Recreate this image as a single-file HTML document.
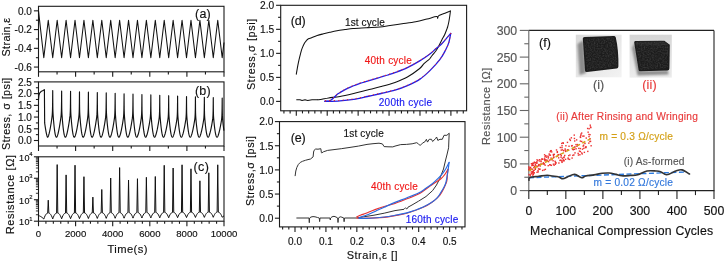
<!DOCTYPE html>
<html><head><meta charset="utf-8"><style>
html,body{margin:0;padding:0;background:#fff;}
svg{display:block;will-change:transform;}
text{font-family:"Liberation Sans", sans-serif;}
</style></head><body>
<svg width="725" height="263" viewBox="0 0 725 263">
<rect width="725" height="263" fill="#fff"/>
<rect x="38.5" y="6.3" width="185.5" height="65.5" fill="none" stroke="#1a1a1a" stroke-width="1.1"/>
<line x1="33.9" y1="10.84" x2="38.5" y2="10.84" stroke="#1a1a1a" stroke-width="1.1"/>
<text x="31.8" y="14.59" font-size="10.0" text-anchor="end" fill="#111" stroke="#111" stroke-width="0.15">0.0</text>
<line x1="33.9" y1="29.58" x2="38.5" y2="29.58" stroke="#1a1a1a" stroke-width="1.1"/>
<text x="31.8" y="33.33" font-size="10.0" text-anchor="end" fill="#111" stroke="#111" stroke-width="0.15">-0.2</text>
<line x1="33.9" y1="48.32" x2="38.5" y2="48.32" stroke="#1a1a1a" stroke-width="1.1"/>
<text x="31.8" y="52.07" font-size="10.0" text-anchor="end" fill="#111" stroke="#111" stroke-width="0.15">-0.4</text>
<line x1="33.9" y1="67.06" x2="38.5" y2="67.06" stroke="#1a1a1a" stroke-width="1.1"/>
<text x="31.8" y="70.81" font-size="10.0" text-anchor="end" fill="#111" stroke="#111" stroke-width="0.15">-0.6</text>
<line x1="35.9" y1="20.21" x2="38.5" y2="20.21" stroke="#1a1a1a" stroke-width="1.1"/>
<line x1="35.9" y1="38.95" x2="38.5" y2="38.95" stroke="#1a1a1a" stroke-width="1.1"/>
<line x1="35.9" y1="57.69" x2="38.5" y2="57.69" stroke="#1a1a1a" stroke-width="1.1"/>
<line x1="38.5" y1="71.8" x2="38.5" y2="76.8" stroke="#1a1a1a" stroke-width="1.1"/>
<line x1="75.6" y1="71.8" x2="75.6" y2="76.8" stroke="#1a1a1a" stroke-width="1.1"/>
<line x1="112.7" y1="71.8" x2="112.7" y2="76.8" stroke="#1a1a1a" stroke-width="1.1"/>
<line x1="149.8" y1="71.8" x2="149.8" y2="76.8" stroke="#1a1a1a" stroke-width="1.1"/>
<line x1="186.9" y1="71.8" x2="186.9" y2="76.8" stroke="#1a1a1a" stroke-width="1.1"/>
<line x1="224" y1="71.8" x2="224" y2="76.8" stroke="#1a1a1a" stroke-width="1.1"/>
<line x1="57.05" y1="71.8" x2="57.05" y2="74.4" stroke="#1a1a1a" stroke-width="1.1"/>
<line x1="94.15" y1="71.8" x2="94.15" y2="74.4" stroke="#1a1a1a" stroke-width="1.1"/>
<line x1="131.25" y1="71.8" x2="131.25" y2="74.4" stroke="#1a1a1a" stroke-width="1.1"/>
<line x1="168.35" y1="71.8" x2="168.35" y2="74.4" stroke="#1a1a1a" stroke-width="1.1"/>
<line x1="205.45" y1="71.8" x2="205.45" y2="74.4" stroke="#1a1a1a" stroke-width="1.1"/>
<polyline points="38.5,10.84 43.8,57.69 48.26,20.21 52.72,57.69 57.18,20.21 61.64,57.69 66.1,20.21 70.56,57.69 75.02,20.21 79.48,57.69 83.94,20.21 88.4,57.69 92.86,20.21 97.32,57.69 101.78,20.21 106.24,57.69 110.7,20.21 115.16,57.69 119.62,20.21 124.08,57.69 128.54,20.21 133,57.69 137.46,20.21 141.92,57.69 146.38,20.21 150.84,57.69 155.3,20.21 159.76,57.69 164.22,20.21 168.68,57.69 173.14,20.21 177.6,57.69 182.06,20.21 186.52,57.69 190.98,20.21 195.44,57.69 199.9,20.21 204.36,57.69 208.82,20.21 213.28,57.69 217.74,20.21 222.2,57.69 224,42.56" fill="none" stroke="#111" stroke-width="1.05" stroke-linejoin="round" />
<text x="195.05" y="17.6" font-size="12.5" fill="#111" stroke="#111" stroke-width="0.15" textLength="15.63" lengthAdjust="spacing">(a)</text>
<text x="9.9" y="56.54" font-size="10.8" fill="#111" stroke="#111" stroke-width="0.15" textLength="38.72" lengthAdjust="spacing" transform="rotate(-90 9.9 56.54)">Strain,ε</text>
<rect x="38.5" y="81.9" width="185.5" height="64.1" fill="none" stroke="#1a1a1a" stroke-width="1.1"/>
<line x1="33.9" y1="140.5" x2="38.5" y2="140.5" stroke="#1a1a1a" stroke-width="1.1"/>
<text x="31.8" y="144.25" font-size="10.0" text-anchor="end" fill="#111" stroke="#111" stroke-width="0.15">0.0</text>
<line x1="33.9" y1="128.78" x2="38.5" y2="128.78" stroke="#1a1a1a" stroke-width="1.1"/>
<text x="31.8" y="132.53" font-size="10.0" text-anchor="end" fill="#111" stroke="#111" stroke-width="0.15">0.5</text>
<line x1="33.9" y1="117.06" x2="38.5" y2="117.06" stroke="#1a1a1a" stroke-width="1.1"/>
<text x="31.8" y="120.81" font-size="10.0" text-anchor="end" fill="#111" stroke="#111" stroke-width="0.15">1.0</text>
<line x1="33.9" y1="105.34" x2="38.5" y2="105.34" stroke="#1a1a1a" stroke-width="1.1"/>
<text x="31.8" y="109.09" font-size="10.0" text-anchor="end" fill="#111" stroke="#111" stroke-width="0.15">1.5</text>
<line x1="33.9" y1="93.62" x2="38.5" y2="93.62" stroke="#1a1a1a" stroke-width="1.1"/>
<text x="31.8" y="97.37" font-size="10.0" text-anchor="end" fill="#111" stroke="#111" stroke-width="0.15">2.0</text>
<line x1="33.9" y1="81.9" x2="38.5" y2="81.9" stroke="#1a1a1a" stroke-width="1.1"/>
<text x="31.8" y="85.65" font-size="10.0" text-anchor="end" fill="#111" stroke="#111" stroke-width="0.15">2.5</text>
<line x1="35.9" y1="134.64" x2="38.5" y2="134.64" stroke="#1a1a1a" stroke-width="1.1"/>
<line x1="35.9" y1="122.92" x2="38.5" y2="122.92" stroke="#1a1a1a" stroke-width="1.1"/>
<line x1="35.9" y1="111.2" x2="38.5" y2="111.2" stroke="#1a1a1a" stroke-width="1.1"/>
<line x1="35.9" y1="99.48" x2="38.5" y2="99.48" stroke="#1a1a1a" stroke-width="1.1"/>
<line x1="35.9" y1="87.76" x2="38.5" y2="87.76" stroke="#1a1a1a" stroke-width="1.1"/>
<line x1="38.5" y1="146" x2="38.5" y2="151" stroke="#1a1a1a" stroke-width="1.1"/>
<line x1="75.6" y1="146" x2="75.6" y2="151" stroke="#1a1a1a" stroke-width="1.1"/>
<line x1="112.7" y1="146" x2="112.7" y2="151" stroke="#1a1a1a" stroke-width="1.1"/>
<line x1="149.8" y1="146" x2="149.8" y2="151" stroke="#1a1a1a" stroke-width="1.1"/>
<line x1="186.9" y1="146" x2="186.9" y2="151" stroke="#1a1a1a" stroke-width="1.1"/>
<line x1="224" y1="146" x2="224" y2="151" stroke="#1a1a1a" stroke-width="1.1"/>
<line x1="57.05" y1="146" x2="57.05" y2="148.6" stroke="#1a1a1a" stroke-width="1.1"/>
<line x1="94.15" y1="146" x2="94.15" y2="148.6" stroke="#1a1a1a" stroke-width="1.1"/>
<line x1="131.25" y1="146" x2="131.25" y2="148.6" stroke="#1a1a1a" stroke-width="1.1"/>
<line x1="168.35" y1="146" x2="168.35" y2="148.6" stroke="#1a1a1a" stroke-width="1.1"/>
<line x1="205.45" y1="146" x2="205.45" y2="148.6" stroke="#1a1a1a" stroke-width="1.1"/>
<polyline points="38.5,100.18 38.9,95.5 39.6,93.15 41,91.51 43,90.57 44.4,89.64 44.53,106.29 44.66,122.94 44.78,123.83 44.9,124.69 45.02,125.53 45.15,126.36 45.27,127.16 45.39,127.95 45.51,128.71 45.64,129.45 45.76,130.17 45.88,130.86 46.01,131.53 46.13,132.17 46.25,132.79 46.37,133.38 46.5,133.94 46.62,134.47 46.74,134.97 46.86,135.43 46.99,135.86 47.11,136.25 47.23,136.59 47.35,136.87 47.48,137.1 47.6,137.22 47.79,137.08 47.98,136.81 48.18,136.44 48.37,135.99 48.56,135.46 48.75,134.86 48.94,134.2 49.14,133.48 49.33,132.71 49.52,131.88 49.71,131 49.9,130.07 50.1,129.09 50.29,128.07 50.48,127 50.67,125.89 50.86,124.73 51.06,123.54 51.25,122.3 51.44,121.03 51.63,119.71 51.82,118.34 52.02,116.85 52.21,115.02 52.31,113.63 52.41,111.57 52.52,108.16 52.57,105.56 52.62,102.03 52.67,97.21 52.72,90.57 52.74,95 52.76,98.53 52.8,103.6 52.83,106.9 52.87,109.11 52.95,111.8 53.1,114.64 53.25,116.73 53.39,118.65 53.54,120.46 53.69,122.17 53.84,123.79 53.99,125.31 54.14,126.73 54.29,128.06 54.44,129.29 54.59,130.44 54.73,131.49 54.88,132.44 55.03,133.31 55.18,134.09 55.33,134.77 55.48,135.37 55.63,135.88 55.78,136.31 55.92,136.65 56.07,136.91 56.22,137.09 56.37,137.19 56.52,137.22 56.71,137.09 56.9,136.82 57.1,136.45 57.29,136 57.48,135.47 57.67,134.88 57.86,134.23 58.06,133.51 58.25,132.74 58.44,131.92 58.63,131.05 58.82,130.13 59.02,129.16 59.21,128.15 59.4,127.09 59.59,125.98 59.78,124.84 59.98,123.65 60.17,122.43 60.36,121.16 60.55,119.86 60.74,118.5 60.94,117.02 61.13,115.21 61.23,113.83 61.33,111.79 61.44,108.4 61.49,105.82 61.54,102.33 61.59,97.55 61.64,90.97 61.66,95.36 61.68,98.85 61.72,103.88 61.75,107.15 61.79,109.34 61.87,112.01 62.02,114.83 62.17,116.91 62.31,118.81 62.46,120.6 62.61,122.3 62.76,123.9 62.91,125.41 63.06,126.82 63.21,128.14 63.36,129.36 63.51,130.49 63.65,131.53 63.8,132.48 63.95,133.34 64.1,134.11 64.25,134.79 64.4,135.39 64.55,135.89 64.7,136.31 64.84,136.65 64.99,136.91 65.14,137.09 65.29,137.19 65.44,137.22 65.63,137.09 65.82,136.82 66.02,136.45 66.21,136.01 66.4,135.49 66.59,134.9 66.78,134.25 66.98,133.54 67.17,132.78 67.36,131.97 67.55,131.1 67.74,130.19 67.94,129.23 68.13,128.22 68.32,127.17 68.51,126.08 68.7,124.95 68.9,123.77 69.09,122.56 69.28,121.3 69.47,120 69.66,118.65 69.86,117.2 70.05,115.39 70.15,114.03 70.25,112.01 70.36,108.65 70.41,106.09 70.46,102.63 70.51,97.88 70.56,91.36 70.58,95.72 70.6,99.18 70.64,104.17 70.67,107.41 70.71,109.58 70.79,112.23 70.94,115.02 71.09,117.08 71.23,118.96 71.38,120.74 71.53,122.43 71.68,124.01 71.83,125.51 71.98,126.91 72.13,128.21 72.28,129.43 72.43,130.55 72.57,131.58 72.72,132.52 72.87,133.38 73.02,134.14 73.17,134.81 73.32,135.4 73.47,135.9 73.62,136.32 73.76,136.66 73.91,136.91 74.06,137.09 74.21,137.19 74.36,137.22 74.55,137.09 74.74,136.82 74.94,136.46 75.13,136.02 75.32,135.5 75.51,134.92 75.7,134.28 75.9,133.58 76.09,132.82 76.28,132.01 76.47,131.16 76.66,130.25 76.86,129.3 77.05,128.3 77.24,127.26 77.43,126.18 77.62,125.05 77.82,123.89 78.01,122.68 78.2,121.44 78.39,120.15 78.58,118.81 78.78,117.37 78.97,115.58 79.07,114.23 79.17,112.23 79.28,108.89 79.33,106.36 79.38,102.92 79.43,98.22 79.48,91.76 79.5,96.07 79.52,99.51 79.56,104.45 79.59,107.67 79.63,109.82 79.71,112.44 79.86,115.22 80.01,117.25 80.15,119.12 80.3,120.88 80.45,122.55 80.6,124.13 80.75,125.61 80.9,127 81.05,128.29 81.2,129.5 81.35,130.61 81.49,131.63 81.64,132.56 81.79,133.41 81.94,134.16 82.09,134.83 82.24,135.42 82.39,135.92 82.54,136.33 82.68,136.66 82.83,136.91 82.98,137.09 83.13,137.19 83.28,137.22 83.47,137.09 83.66,136.83 83.86,136.47 84.05,136.03 84.24,135.52 84.43,134.94 84.62,134.3 84.82,133.61 85.01,132.86 85.2,132.06 85.39,131.21 85.58,130.31 85.78,129.37 85.97,128.38 86.16,127.35 86.35,126.27 86.54,125.16 86.74,124 86.93,122.81 87.12,121.57 87.31,120.3 87.5,118.97 87.7,117.54 87.89,115.77 87.99,114.43 88.09,112.44 88.2,109.14 88.25,106.63 88.3,103.22 88.35,98.56 88.4,92.15 88.42,96.43 88.44,99.84 88.48,104.74 88.51,107.92 88.55,110.06 88.63,112.66 88.78,115.41 88.93,117.43 89.07,119.28 89.22,121.03 89.37,122.68 89.52,124.24 89.67,125.71 89.82,127.08 89.97,128.37 90.12,129.56 90.27,130.67 90.41,131.68 90.56,132.6 90.71,133.44 90.86,134.19 91.01,134.85 91.16,135.43 91.31,135.93 91.46,136.34 91.6,136.67 91.75,136.92 91.9,137.09 92.05,137.19 92.2,137.22 92.39,137.09 92.58,136.83 92.78,136.47 92.97,136.04 93.16,135.53 93.35,134.96 93.54,134.33 93.74,133.64 93.93,132.9 94.12,132.1 94.31,131.26 94.5,130.37 94.7,129.44 94.89,128.46 95.08,127.43 95.27,126.37 95.46,125.26 95.66,124.12 95.85,122.93 96.04,121.71 96.23,120.45 96.42,119.13 96.62,117.71 96.81,115.96 96.91,114.63 97.01,112.66 97.12,109.39 97.17,106.9 97.22,103.52 97.27,98.9 97.32,92.55 97.34,96.79 97.36,100.16 97.4,105.02 97.43,108.18 97.47,110.3 97.55,112.87 97.7,115.6 97.85,117.6 97.99,119.44 98.14,121.17 98.29,122.81 98.44,124.35 98.59,125.81 98.74,127.17 98.89,128.45 99.04,129.63 99.19,130.72 99.33,131.73 99.48,132.65 99.63,133.47 99.78,134.22 99.93,134.88 100.08,135.45 100.23,135.94 100.38,136.35 100.52,136.67 100.67,136.92 100.82,137.09 100.97,137.19 101.12,137.22 101.31,137.09 101.5,136.83 101.7,136.48 101.89,136.05 102.08,135.55 102.27,134.98 102.46,134.35 102.66,133.67 102.85,132.94 103.04,132.15 103.23,131.31 103.42,130.43 103.62,129.5 103.81,128.53 104,127.52 104.19,126.46 104.38,125.37 104.58,124.23 104.77,123.06 104.96,121.85 105.15,120.6 105.34,119.29 105.54,117.89 105.73,116.15 105.83,114.83 105.93,112.88 106.04,109.63 106.09,107.16 106.14,103.82 106.19,99.24 106.24,92.94 106.26,97.15 106.28,100.49 106.32,105.31 106.35,108.44 106.39,110.53 106.47,113.09 106.62,115.79 106.77,117.77 106.91,119.59 107.06,121.31 107.21,122.93 107.36,124.47 107.51,125.91 107.66,127.26 107.81,128.52 107.96,129.7 108.11,130.78 108.25,131.78 108.4,132.69 108.55,133.51 108.7,134.24 108.85,134.9 109,135.46 109.15,135.95 109.3,136.35 109.44,136.68 109.59,136.92 109.74,137.09 109.89,137.19 110.04,137.22 110.23,137.09 110.42,136.84 110.62,136.49 110.81,136.06 111,135.56 111.19,135 111.38,134.38 111.58,133.7 111.77,132.97 111.96,132.19 112.15,131.37 112.34,130.49 112.54,129.57 112.73,128.61 112.92,127.61 113.11,126.56 113.3,125.47 113.5,124.35 113.69,123.19 113.88,121.99 114.07,120.75 114.26,119.45 114.46,118.06 114.65,116.33 114.75,115.03 114.85,113.09 114.96,109.88 115.01,107.43 115.06,104.11 115.11,99.58 115.16,93.34 115.18,97.5 115.2,100.82 115.24,105.59 115.27,108.69 115.31,110.77 115.39,113.3 115.54,115.98 115.69,117.95 115.83,119.75 115.98,121.45 116.13,123.06 116.28,124.58 116.43,126.01 116.58,127.35 116.73,128.6 116.88,129.76 117.03,130.84 117.17,131.83 117.32,132.73 117.47,133.54 117.62,134.27 117.77,134.92 117.92,135.48 118.07,135.96 118.22,136.36 118.36,136.68 118.51,136.92 118.66,137.09 118.81,137.19 118.96,137.22 119.15,137.09 119.34,136.84 119.54,136.49 119.73,136.07 119.92,135.58 120.11,135.02 120.3,134.4 120.5,133.73 120.69,133.01 120.88,132.24 121.07,131.42 121.26,130.55 121.46,129.64 121.65,128.69 121.84,127.69 122.03,126.66 122.22,125.58 122.42,124.47 122.61,123.31 122.8,122.12 122.99,120.89 123.18,119.61 123.38,118.23 123.57,116.52 123.67,115.23 123.77,113.31 123.88,110.12 123.93,107.7 123.98,104.41 124.03,99.92 124.08,93.73 124.1,97.86 124.12,101.15 124.16,105.88 124.19,108.95 124.23,111.01 124.31,113.52 124.46,116.17 124.61,118.12 124.75,119.91 124.9,121.59 125.05,123.19 125.2,124.7 125.35,126.11 125.5,127.44 125.65,128.68 125.8,129.83 125.95,130.9 126.09,131.87 126.24,132.77 126.39,133.57 126.54,134.3 126.69,134.94 126.84,135.5 126.99,135.97 127.14,136.37 127.28,136.69 127.43,136.93 127.58,137.09 127.73,137.19 127.88,137.22 128.07,137.09 128.26,136.84 128.46,136.5 128.65,136.08 128.84,135.59 129.03,135.04 129.22,134.43 129.42,133.77 129.61,133.05 129.8,132.28 129.99,131.47 130.18,130.61 130.38,129.71 130.57,128.77 130.76,127.78 130.95,126.75 131.14,125.69 131.34,124.58 131.53,123.44 131.72,122.26 131.91,121.04 132.1,119.77 132.3,118.4 132.49,116.71 132.59,115.43 132.69,113.53 132.8,110.37 132.85,107.97 132.9,104.71 132.95,100.25 133,94.13 133.02,98.22 133.04,101.47 133.08,106.16 133.11,109.21 133.15,111.25 133.23,113.73 133.38,116.36 133.53,118.3 133.67,120.06 133.82,121.74 133.97,123.32 134.12,124.81 134.27,126.21 134.42,127.53 134.57,128.76 134.72,129.9 134.87,130.95 135.01,131.92 135.16,132.81 135.31,133.61 135.46,134.32 135.61,134.96 135.76,135.51 135.91,135.98 136.06,136.38 136.2,136.69 136.35,136.93 136.5,137.1 136.65,137.19 136.8,137.22 136.99,137.1 137.18,136.85 137.38,136.51 137.57,136.09 137.76,135.61 137.95,135.06 138.14,134.46 138.34,133.8 138.53,133.09 138.72,132.33 138.91,131.52 139.1,130.67 139.3,129.78 139.49,128.84 139.68,127.87 139.87,126.85 140.06,125.79 140.26,124.7 140.45,123.57 140.64,122.4 140.83,121.19 141.02,119.93 141.22,118.58 141.41,116.9 141.51,115.63 141.61,113.74 141.72,110.62 141.77,108.24 141.82,105.01 141.87,100.59 141.92,94.52 141.94,98.58 141.96,101.8 142,106.44 142.03,109.46 142.07,111.49 142.15,113.95 142.3,116.55 142.45,118.47 142.59,120.22 142.74,121.88 142.89,123.44 143.04,124.92 143.19,126.31 143.34,127.62 143.49,128.83 143.64,129.96 143.79,131.01 143.93,131.97 144.08,132.85 144.23,133.64 144.38,134.35 144.53,134.98 144.68,135.53 144.83,135.99 144.98,136.38 145.12,136.7 145.27,136.93 145.42,137.1 145.57,137.19 145.72,137.22 145.91,137.1 146.1,136.85 146.3,136.51 146.49,136.1 146.68,135.62 146.87,135.08 147.06,134.48 147.26,133.83 147.45,133.13 147.64,132.37 147.83,131.58 148.02,130.73 148.22,129.85 148.41,128.92 148.6,127.95 148.79,126.94 148.98,125.9 149.18,124.81 149.37,123.69 149.56,122.53 149.75,121.34 149.94,120.09 150.14,118.75 150.33,117.08 150.43,115.83 150.53,113.96 150.64,110.86 150.69,108.5 150.74,105.31 150.79,100.93 150.84,94.92 150.86,98.93 150.88,102.13 150.92,106.73 150.95,109.72 150.99,111.72 151.07,114.16 151.22,116.74 151.37,118.64 151.51,120.38 151.66,122.02 151.81,123.57 151.96,125.04 152.11,126.41 152.26,127.71 152.41,128.91 152.56,130.03 152.71,131.07 152.85,132.02 153,132.89 153.15,133.67 153.3,134.38 153.45,135 153.6,135.54 153.75,136.01 153.9,136.39 154.04,136.7 154.19,136.94 154.34,137.1 154.49,137.19 154.64,137.22 154.83,137.1 155.02,136.85 155.22,136.52 155.41,136.11 155.6,135.64 155.79,135.1 155.98,134.51 156.18,133.86 156.37,133.16 156.56,132.42 156.75,131.63 156.94,130.79 157.14,129.92 157.33,129 157.52,128.04 157.71,127.04 157.9,126 158.1,124.93 158.29,123.82 158.48,122.67 158.67,121.49 158.86,120.25 159.06,118.92 159.25,117.27 159.35,116.03 159.45,114.18 159.56,111.11 159.61,108.77 159.66,105.6 159.71,101.27 159.76,95.31 159.78,99.29 159.8,102.46 159.84,107.01 159.87,109.98 159.91,111.96 159.99,114.38 160.14,116.93 160.29,118.82 160.43,120.54 160.58,122.16 160.73,123.7 160.88,125.15 161.03,126.52 161.18,127.79 161.33,128.99 161.48,130.1 161.63,131.13 161.77,132.07 161.92,132.93 162.07,133.71 162.22,134.4 162.37,135.02 162.52,135.56 162.67,136.02 162.82,136.4 162.96,136.71 163.11,136.94 163.26,137.1 163.41,137.19 163.56,137.22 163.75,137.1 163.94,136.86 164.14,136.53 164.33,136.12 164.52,135.65 164.71,135.12 164.9,134.53 165.1,133.89 165.29,133.2 165.48,132.47 165.67,131.68 165.86,130.85 166.06,129.99 166.25,129.07 166.44,128.12 166.63,127.14 166.82,126.11 167.02,125.04 167.21,123.94 167.4,122.81 167.59,121.63 167.78,120.41 167.98,119.09 168.17,117.46 168.27,116.23 168.37,114.4 168.48,111.35 168.53,109.04 168.58,105.9 168.63,101.61 168.68,95.7 168.7,99.65 168.72,102.78 168.76,107.3 168.79,110.23 168.83,112.2 168.91,114.59 169.06,117.13 169.21,118.99 169.35,120.69 169.5,122.3 169.65,123.83 169.8,125.26 169.95,126.62 170.1,127.88 170.25,129.07 170.4,130.17 170.55,131.18 170.69,132.12 170.84,132.97 170.99,133.74 171.14,134.43 171.29,135.04 171.44,135.57 171.59,136.03 171.74,136.41 171.88,136.71 172.03,136.94 172.18,137.1 172.33,137.19 172.48,137.22 172.67,137.1 172.86,136.86 173.06,136.53 173.25,136.13 173.44,135.67 173.63,135.14 173.82,134.56 174.02,133.92 174.21,133.24 174.4,132.51 174.59,131.73 174.78,130.92 174.98,130.05 175.17,129.15 175.36,128.21 175.55,127.23 175.74,126.21 175.94,125.16 176.13,124.07 176.32,122.95 176.51,121.78 176.7,120.57 176.9,119.26 177.09,117.65 177.19,116.43 177.29,114.61 177.4,111.6 177.45,109.31 177.5,106.2 177.55,101.95 177.6,96.1 177.62,100 177.64,103.11 177.68,107.58 177.71,110.49 177.75,112.44 177.83,114.81 177.98,117.32 178.13,119.16 178.27,120.85 178.42,122.44 178.57,123.95 178.72,125.38 178.87,126.72 179.02,127.97 179.17,129.14 179.32,130.23 179.47,131.24 179.61,132.16 179.76,133.01 179.91,133.77 180.06,134.46 180.21,135.06 180.36,135.59 180.51,136.04 180.66,136.41 180.8,136.72 180.95,136.94 181.1,137.1 181.25,137.19 181.4,137.22 181.59,137.1 181.78,136.86 181.98,136.54 182.17,136.14 182.36,135.68 182.55,135.16 182.74,134.58 182.94,133.96 183.13,133.28 183.32,132.56 183.51,131.79 183.7,130.98 183.9,130.12 184.09,129.23 184.28,128.3 184.47,127.33 184.66,126.32 184.86,125.28 185.05,124.2 185.24,123.08 185.43,121.93 185.62,120.73 185.82,119.44 186.01,117.84 186.11,116.63 186.21,114.83 186.32,111.85 186.37,109.58 186.42,106.5 186.47,102.29 186.52,96.49 186.54,100.36 186.56,103.44 186.6,107.87 186.63,110.75 186.67,112.68 186.75,115.02 186.9,117.51 187.05,119.34 187.19,121.01 187.34,122.59 187.49,124.08 187.64,125.49 187.79,126.82 187.94,128.06 188.09,129.22 188.24,130.3 188.39,131.3 188.53,132.21 188.68,133.05 188.83,133.81 188.98,134.48 189.13,135.08 189.28,135.6 189.43,136.05 189.58,136.42 189.72,136.72 189.87,136.95 190.02,137.1 190.17,137.19 190.32,137.22 190.51,137.1 190.7,136.87 190.9,136.55 191.09,136.15 191.28,135.7 191.47,135.18 191.66,134.61 191.86,133.99 192.05,133.32 192.24,132.6 192.43,131.84 192.62,131.04 192.82,130.19 193.01,129.31 193.2,128.38 193.39,127.42 193.58,126.43 193.78,125.39 193.97,124.32 194.16,123.22 194.35,122.08 194.54,120.89 194.74,119.61 194.93,118.02 195.03,116.83 195.13,115.05 195.24,112.09 195.29,109.84 195.34,106.79 195.39,102.62 195.44,96.89 195.46,100.72 195.48,103.77 195.52,108.15 195.55,111 195.59,112.91 195.67,115.24 195.82,117.7 195.97,119.51 196.11,121.16 196.26,122.73 196.41,124.21 196.56,125.6 196.71,126.92 196.86,128.15 197.01,129.3 197.16,130.37 197.31,131.35 197.45,132.26 197.6,133.09 197.75,133.84 197.9,134.51 198.05,135.1 198.2,135.62 198.35,136.06 198.5,136.43 198.64,136.72 198.79,136.95 198.94,137.1 199.09,137.19 199.24,137.22 199.43,137.1 199.62,136.87 199.82,136.55 200.01,136.16 200.2,135.71 200.39,135.2 200.58,134.63 200.78,134.02 200.97,133.36 201.16,132.65 201.35,131.89 201.54,131.1 201.74,130.26 201.93,129.38 202.12,128.47 202.31,127.52 202.5,126.53 202.7,125.51 202.89,124.45 203.08,123.36 203.27,122.23 203.46,121.05 203.66,119.78 203.85,118.21 203.95,117.03 204.05,115.26 204.16,112.34 204.21,110.11 204.26,107.09 204.31,102.96 204.36,97.28 204.38,101.08 204.4,104.09 204.44,108.44 204.47,111.26 204.51,113.15 204.59,115.45 204.74,117.89 204.89,119.68 205.03,121.32 205.18,122.87 205.33,124.34 205.48,125.72 205.63,127.02 205.78,128.24 205.93,129.38 206.08,130.43 206.23,131.41 206.37,132.31 206.52,133.13 206.67,133.87 206.82,134.54 206.97,135.12 207.12,135.64 207.27,136.07 207.42,136.44 207.56,136.73 207.71,136.95 207.86,137.1 208.01,137.19 208.16,137.22 208.35,137.1 208.54,136.87 208.74,136.56 208.93,136.17 209.12,135.72 209.31,135.22 209.5,134.66 209.7,134.05 209.89,133.39 210.08,132.69 210.27,131.95 210.46,131.16 210.66,130.33 210.85,129.46 211.04,128.56 211.23,127.61 211.42,126.64 211.62,125.62 211.81,124.58 212,123.49 212.19,122.38 212.38,121.21 212.58,119.95 212.77,118.4 212.87,117.23 212.97,115.48 213.08,112.58 213.13,110.38 213.18,107.39 213.23,103.3 213.28,97.68 213.3,101.43 213.32,104.42 213.36,108.72 213.39,111.52 213.43,113.39 213.51,115.67 213.66,118.08 213.81,119.86 213.95,121.48 214.1,123.01 214.25,124.46 214.4,125.83 214.55,127.12 214.7,128.33 214.85,129.45 215,130.5 215.15,131.47 215.29,132.36 215.44,133.17 215.59,133.9 215.74,134.56 215.89,135.14 216.04,135.65 216.19,136.08 216.34,136.45 216.48,136.73 216.63,136.95 216.78,137.11 216.93,137.19 217.08,137.22 217.27,137.11 217.46,136.88 217.66,136.57 217.85,136.18 218.04,135.74 218.23,135.24 218.42,134.69 218.62,134.08 218.81,133.43 219,132.74 219.19,132 219.38,131.22 219.58,130.4 219.77,129.54 219.96,128.64 220.15,127.71 220.34,126.74 220.54,125.74 220.73,124.7 220.92,123.63 221.11,122.52 221.3,121.37 221.5,120.13 221.69,118.59 221.79,117.43 221.89,115.7 222,112.83 222.05,110.65 222.1,107.69 222.15,103.64 222.2,98.07 222.22,101.79 222.24,104.75 222.28,109 222.31,111.77 222.35,113.63 222.43,115.88 222.58,118.27 222.73,120.03 222.87,121.64 223.02,123.15 223.17,124.59 223.32,125.95 223.47,127.22 223.62,128.42 223.77,129.53 223.92,130.57" fill="none" stroke="#111" stroke-width="1.15" stroke-linejoin="round" />
<text x="194.95" y="94.8" font-size="12.5" fill="#111" stroke="#111" stroke-width="0.15" textLength="15.73" lengthAdjust="spacing">(b)</text>
<text x="9.6" y="149.94" font-size="10.8" fill="#111" stroke="#111" stroke-width="0.15" textLength="72.18" lengthAdjust="spacing" transform="rotate(-90 9.6 149.94)">Stress, σ [psi]</text>
<rect x="38.5" y="156.8" width="185.5" height="64.4" fill="none" stroke="#1a1a1a" stroke-width="1.1"/>
<line x1="33.9" y1="221.2" x2="38.5" y2="221.2" stroke="#1a1a1a" stroke-width="1.1"/>
<text x="19.08" y="225.2" font-size="9.0" fill="#111" stroke="#111" stroke-width="0.15" textLength="10.41" lengthAdjust="spacing">10</text>
<text x="29.2" y="220.8" font-size="5.8" text-anchor="start" fill="#111" stroke="#111" stroke-width="0.15">1</text>
<line x1="33.9" y1="199.73" x2="38.5" y2="199.73" stroke="#1a1a1a" stroke-width="1.1"/>
<text x="19.08" y="203.73" font-size="9.0" fill="#111" stroke="#111" stroke-width="0.15" textLength="10.41" lengthAdjust="spacing">10</text>
<text x="29.2" y="199.33" font-size="5.8" text-anchor="start" fill="#111" stroke="#111" stroke-width="0.15">2</text>
<line x1="33.9" y1="178.26" x2="38.5" y2="178.26" stroke="#1a1a1a" stroke-width="1.1"/>
<text x="19.08" y="182.26" font-size="9.0" fill="#111" stroke="#111" stroke-width="0.15" textLength="10.41" lengthAdjust="spacing">10</text>
<text x="29.2" y="177.86" font-size="5.8" text-anchor="start" fill="#111" stroke="#111" stroke-width="0.15">3</text>
<line x1="33.9" y1="156.79" x2="38.5" y2="156.79" stroke="#1a1a1a" stroke-width="1.1"/>
<text x="19.08" y="160.79" font-size="9.0" fill="#111" stroke="#111" stroke-width="0.15" textLength="10.41" lengthAdjust="spacing">10</text>
<text x="29.2" y="156.39" font-size="5.8" text-anchor="start" fill="#111" stroke="#111" stroke-width="0.15">4</text>
<line x1="35.9" y1="214.74" x2="38.5" y2="214.74" stroke="#1a1a1a" stroke-width="0.9"/>
<line x1="35.9" y1="210.96" x2="38.5" y2="210.96" stroke="#1a1a1a" stroke-width="0.9"/>
<line x1="35.9" y1="208.27" x2="38.5" y2="208.27" stroke="#1a1a1a" stroke-width="0.9"/>
<line x1="35.9" y1="206.19" x2="38.5" y2="206.19" stroke="#1a1a1a" stroke-width="0.9"/>
<line x1="35.9" y1="204.49" x2="38.5" y2="204.49" stroke="#1a1a1a" stroke-width="0.9"/>
<line x1="35.9" y1="203.06" x2="38.5" y2="203.06" stroke="#1a1a1a" stroke-width="0.9"/>
<line x1="35.9" y1="201.81" x2="38.5" y2="201.81" stroke="#1a1a1a" stroke-width="0.9"/>
<line x1="35.9" y1="200.71" x2="38.5" y2="200.71" stroke="#1a1a1a" stroke-width="0.9"/>
<line x1="35.9" y1="193.27" x2="38.5" y2="193.27" stroke="#1a1a1a" stroke-width="0.9"/>
<line x1="35.9" y1="189.49" x2="38.5" y2="189.49" stroke="#1a1a1a" stroke-width="0.9"/>
<line x1="35.9" y1="186.8" x2="38.5" y2="186.8" stroke="#1a1a1a" stroke-width="0.9"/>
<line x1="35.9" y1="184.72" x2="38.5" y2="184.72" stroke="#1a1a1a" stroke-width="0.9"/>
<line x1="35.9" y1="183.02" x2="38.5" y2="183.02" stroke="#1a1a1a" stroke-width="0.9"/>
<line x1="35.9" y1="181.59" x2="38.5" y2="181.59" stroke="#1a1a1a" stroke-width="0.9"/>
<line x1="35.9" y1="180.34" x2="38.5" y2="180.34" stroke="#1a1a1a" stroke-width="0.9"/>
<line x1="35.9" y1="179.24" x2="38.5" y2="179.24" stroke="#1a1a1a" stroke-width="0.9"/>
<line x1="35.9" y1="171.8" x2="38.5" y2="171.8" stroke="#1a1a1a" stroke-width="0.9"/>
<line x1="35.9" y1="168.02" x2="38.5" y2="168.02" stroke="#1a1a1a" stroke-width="0.9"/>
<line x1="35.9" y1="165.33" x2="38.5" y2="165.33" stroke="#1a1a1a" stroke-width="0.9"/>
<line x1="35.9" y1="163.25" x2="38.5" y2="163.25" stroke="#1a1a1a" stroke-width="0.9"/>
<line x1="35.9" y1="161.55" x2="38.5" y2="161.55" stroke="#1a1a1a" stroke-width="0.9"/>
<line x1="35.9" y1="160.12" x2="38.5" y2="160.12" stroke="#1a1a1a" stroke-width="0.9"/>
<line x1="35.9" y1="158.87" x2="38.5" y2="158.87" stroke="#1a1a1a" stroke-width="0.9"/>
<line x1="35.9" y1="157.77" x2="38.5" y2="157.77" stroke="#1a1a1a" stroke-width="0.9"/>
<line x1="38.5" y1="221.2" x2="38.5" y2="226.2" stroke="#1a1a1a" stroke-width="1.1"/>
<line x1="75.6" y1="221.2" x2="75.6" y2="226.2" stroke="#1a1a1a" stroke-width="1.1"/>
<line x1="112.7" y1="221.2" x2="112.7" y2="226.2" stroke="#1a1a1a" stroke-width="1.1"/>
<line x1="149.8" y1="221.2" x2="149.8" y2="226.2" stroke="#1a1a1a" stroke-width="1.1"/>
<line x1="186.9" y1="221.2" x2="186.9" y2="226.2" stroke="#1a1a1a" stroke-width="1.1"/>
<line x1="224" y1="221.2" x2="224" y2="226.2" stroke="#1a1a1a" stroke-width="1.1"/>
<line x1="45.92" y1="221.2" x2="45.92" y2="223.8" stroke="#1a1a1a" stroke-width="1.1"/>
<line x1="53.34" y1="221.2" x2="53.34" y2="223.8" stroke="#1a1a1a" stroke-width="1.1"/>
<line x1="60.76" y1="221.2" x2="60.76" y2="223.8" stroke="#1a1a1a" stroke-width="1.1"/>
<line x1="68.18" y1="221.2" x2="68.18" y2="223.8" stroke="#1a1a1a" stroke-width="1.1"/>
<line x1="83.02" y1="221.2" x2="83.02" y2="223.8" stroke="#1a1a1a" stroke-width="1.1"/>
<line x1="90.44" y1="221.2" x2="90.44" y2="223.8" stroke="#1a1a1a" stroke-width="1.1"/>
<line x1="97.86" y1="221.2" x2="97.86" y2="223.8" stroke="#1a1a1a" stroke-width="1.1"/>
<line x1="105.28" y1="221.2" x2="105.28" y2="223.8" stroke="#1a1a1a" stroke-width="1.1"/>
<line x1="120.12" y1="221.2" x2="120.12" y2="223.8" stroke="#1a1a1a" stroke-width="1.1"/>
<line x1="127.54" y1="221.2" x2="127.54" y2="223.8" stroke="#1a1a1a" stroke-width="1.1"/>
<line x1="134.96" y1="221.2" x2="134.96" y2="223.8" stroke="#1a1a1a" stroke-width="1.1"/>
<line x1="142.38" y1="221.2" x2="142.38" y2="223.8" stroke="#1a1a1a" stroke-width="1.1"/>
<line x1="157.22" y1="221.2" x2="157.22" y2="223.8" stroke="#1a1a1a" stroke-width="1.1"/>
<line x1="164.64" y1="221.2" x2="164.64" y2="223.8" stroke="#1a1a1a" stroke-width="1.1"/>
<line x1="172.06" y1="221.2" x2="172.06" y2="223.8" stroke="#1a1a1a" stroke-width="1.1"/>
<line x1="179.48" y1="221.2" x2="179.48" y2="223.8" stroke="#1a1a1a" stroke-width="1.1"/>
<line x1="194.32" y1="221.2" x2="194.32" y2="223.8" stroke="#1a1a1a" stroke-width="1.1"/>
<line x1="201.74" y1="221.2" x2="201.74" y2="223.8" stroke="#1a1a1a" stroke-width="1.1"/>
<line x1="209.16" y1="221.2" x2="209.16" y2="223.8" stroke="#1a1a1a" stroke-width="1.1"/>
<line x1="216.58" y1="221.2" x2="216.58" y2="223.8" stroke="#1a1a1a" stroke-width="1.1"/>
<polyline points="38.5,215.7 39.38,215.89 40.27,216.27 41.15,216.79 42.03,217.42 42.92,218.17 43.8,219 44.44,217.23 45.09,215.78 45.73,214.65 46.37,213.84 47.02,213.36 47.66,213.2 48.26,200.2 48.86,213.2 49.5,213.36 50.15,213.83 50.79,214.63 51.43,215.74 52.08,217.17 52.72,218.91 53.36,217.15 54.01,215.71 54.65,214.59 55.29,213.79 55.94,213.31 56.58,213.15 57.18,164.6 57.78,213.15 58.42,213.3 59.07,213.78 59.71,214.57 60.35,215.67 61,217.09 61.64,218.82 62.28,217.07 62.93,215.64 63.57,214.53 64.21,213.73 64.86,213.25 65.5,213.09 66.1,174.9 66.7,213.09 67.34,213.25 67.99,213.72 68.63,214.5 69.27,215.6 69.92,217.01 70.56,218.73 71.2,216.99 71.85,215.57 72.49,214.46 73.13,213.67 73.78,213.2 74.42,213.04 75.02,165.2 75.62,213.04 76.26,213.2 76.91,213.66 77.55,214.44 78.19,215.53 78.84,216.93 79.48,218.64 80.12,216.91 80.77,215.5 81.41,214.4 82.05,213.62 82.7,213.15 83.34,212.99 83.94,176.7 84.54,212.99 85.18,213.14 85.83,213.61 86.47,214.38 87.11,215.46 87.76,216.85 88.4,218.55 89.04,216.84 89.69,215.43 90.33,214.34 90.97,213.56 91.62,213.09 92.26,212.94 92.86,197.1 93.46,212.94 94.1,213.09 94.75,213.55 95.39,214.32 96.03,215.39 96.68,216.77 97.32,218.46 97.96,216.76 98.61,215.36 99.25,214.28 99.89,213.5 100.54,213.04 101.18,212.88 101.78,189.5 102.38,212.88 103.02,213.04 103.67,213.49 104.31,214.26 104.95,215.32 105.6,216.7 106.24,218.37 106.88,216.68 107.53,215.29 108.17,214.22 108.81,213.45 109.46,212.99 110.1,212.83 110.7,178 111.3,212.83 111.94,212.98 112.59,213.44 113.23,214.19 113.87,215.25 114.52,216.62 115.16,218.28 115.8,216.6 116.45,215.23 117.09,214.16 117.73,213.39 118.38,212.93 119.02,212.78 119.62,167.6 120.22,212.78 120.86,212.93 121.51,213.38 122.15,214.13 122.79,215.19 123.44,216.54 124.08,218.19 124.72,216.52 125.37,215.16 126.01,214.09 126.65,213.33 127.3,212.88 127.94,212.73 128.54,180 129.14,212.73 129.78,212.88 130.43,213.32 131.07,214.07 131.71,215.12 132.36,216.46 133,218.11 133.64,216.45 134.29,215.09 134.93,214.03 135.57,213.28 136.22,212.82 136.86,212.67 137.46,178.7 138.06,212.67 138.7,212.82 139.35,213.27 139.99,214.01 140.63,215.05 141.28,216.38 141.92,218.02 142.56,216.37 143.21,215.02 143.85,213.97 144.49,213.22 145.14,212.77 145.78,212.62 146.38,177.3 146.98,212.62 147.62,212.77 148.27,213.21 148.91,213.95 149.55,214.98 150.2,216.31 150.84,217.93 151.48,216.29 152.13,214.95 152.77,213.91 153.41,213.16 154.06,212.72 154.7,212.57 155.3,176.5 155.9,212.57 156.54,212.71 157.19,213.15 157.83,213.89 158.47,214.91 159.12,216.23 159.76,217.84 160.4,216.21 161.05,214.88 161.69,213.85 162.33,213.11 162.98,212.66 163.62,212.52 164.22,165.3 164.82,212.52 165.46,212.66 166.11,213.1 166.75,213.82 167.39,214.84 168.04,216.15 168.68,217.75 169.32,216.13 169.97,214.81 170.61,213.78 171.25,213.05 171.9,212.61 172.54,212.46 173.14,168 173.74,212.46 174.38,212.61 175.03,213.04 175.67,213.76 176.31,214.77 176.96,216.07 177.6,217.66 178.24,216.05 178.89,214.74 179.53,213.72 180.17,212.99 180.82,212.56 181.46,212.41 182.06,164.8 182.66,212.41 183.3,212.55 183.95,212.98 184.59,213.7 185.23,214.7 185.88,215.99 186.52,217.57 187.16,215.98 187.81,214.67 188.45,213.66 189.09,212.94 189.74,212.5 190.38,212.36 190.98,168.8 191.58,212.36 192.22,212.5 192.87,212.93 193.51,213.64 194.15,214.63 194.8,215.91 195.44,217.48 196.08,215.9 196.73,214.6 197.37,213.6 198.01,212.88 198.66,212.45 199.3,212.31 199.9,180.8 200.5,212.31 201.14,212.45 201.79,212.87 202.43,213.58 203.07,214.56 203.72,215.84 204.36,217.39 205,215.82 205.65,214.54 206.29,213.54 206.93,212.82 207.58,212.4 208.22,212.25 208.82,172.8 209.42,212.25 210.06,212.39 210.71,212.81 211.35,213.51 211.99,214.5 212.64,215.76 213.28,217.3 213.92,215.74 214.57,214.47 215.21,213.47 215.85,212.77 216.5,212.34 217.14,212.2 217.74,164.8 218.34,212.2 218.98,212.34 219.63,212.76 220.27,213.45 220.91,214.43 221.56,215.68 222.2,217.21 224,215.8" fill="none" stroke="#111" stroke-width="1.0" stroke-linejoin="round" />
<text x="193.45" y="170.5" font-size="12.5" fill="#111" stroke="#111" stroke-width="0.15" textLength="15.37" lengthAdjust="spacing">(c)</text>
<text x="38.5" y="237.4" font-size="9.6" text-anchor="middle" fill="#111" stroke="#111" stroke-width="0.15">0</text>
<text x="75.6" y="237.4" font-size="9.6" text-anchor="middle" fill="#111" stroke="#111" stroke-width="0.15">2000</text>
<text x="112.7" y="237.4" font-size="9.6" text-anchor="middle" fill="#111" stroke="#111" stroke-width="0.15">4000</text>
<text x="149.8" y="237.4" font-size="9.6" text-anchor="middle" fill="#111" stroke="#111" stroke-width="0.15">6000</text>
<text x="186.9" y="237.4" font-size="9.6" text-anchor="middle" fill="#111" stroke="#111" stroke-width="0.15">8000</text>
<text x="224" y="237.4" font-size="9.6" text-anchor="middle" fill="#111" stroke="#111" stroke-width="0.15">10000</text>
<text x="107.38" y="252.8" font-size="11.2" fill="#111" stroke="#111" stroke-width="0.15" textLength="40.11" lengthAdjust="spacing">Time(s)</text>
<text x="13.8" y="234.28" font-size="11.0" fill="#111" stroke="#111" stroke-width="0.15" textLength="79.42" lengthAdjust="spacing" transform="rotate(-90 13.8 234.28)">Resistance [Ω]</text>
<rect x="280.7" y="5.3" width="185.9" height="105.5" fill="none" stroke="#1a1a1a" stroke-width="1.1"/>
<line x1="276.1" y1="101.4" x2="280.7" y2="101.4" stroke="#1a1a1a" stroke-width="1.1"/>
<text x="274.2" y="105.22" font-size="10.2" text-anchor="end" fill="#111" stroke="#111" stroke-width="0.15">0.0</text>
<line x1="276.1" y1="77.38" x2="280.7" y2="77.38" stroke="#1a1a1a" stroke-width="1.1"/>
<text x="274.2" y="81.2" font-size="10.2" text-anchor="end" fill="#111" stroke="#111" stroke-width="0.15">0.5</text>
<line x1="276.1" y1="53.35" x2="280.7" y2="53.35" stroke="#1a1a1a" stroke-width="1.1"/>
<text x="274.2" y="57.17" font-size="10.2" text-anchor="end" fill="#111" stroke="#111" stroke-width="0.15">1.0</text>
<line x1="276.1" y1="29.33" x2="280.7" y2="29.33" stroke="#1a1a1a" stroke-width="1.1"/>
<text x="274.2" y="33.15" font-size="10.2" text-anchor="end" fill="#111" stroke="#111" stroke-width="0.15">1.5</text>
<line x1="276.1" y1="5.3" x2="280.7" y2="5.3" stroke="#1a1a1a" stroke-width="1.1"/>
<text x="274.2" y="9.12" font-size="10.2" text-anchor="end" fill="#111" stroke="#111" stroke-width="0.15">2.0</text>
<line x1="278.1" y1="89.39" x2="280.7" y2="89.39" stroke="#1a1a1a" stroke-width="1.1"/>
<line x1="278.1" y1="65.36" x2="280.7" y2="65.36" stroke="#1a1a1a" stroke-width="1.1"/>
<line x1="278.1" y1="41.34" x2="280.7" y2="41.34" stroke="#1a1a1a" stroke-width="1.1"/>
<line x1="278.1" y1="17.31" x2="280.7" y2="17.31" stroke="#1a1a1a" stroke-width="1.1"/>
<line x1="283.93" y1="110.8" x2="283.93" y2="113.4" stroke="#1a1a1a" stroke-width="1.1"/>
<line x1="290.12" y1="110.8" x2="290.12" y2="113.4" stroke="#1a1a1a" stroke-width="1.1"/>
<line x1="296.3" y1="110.8" x2="296.3" y2="115.8" stroke="#1a1a1a" stroke-width="1.1"/>
<line x1="302.48" y1="110.8" x2="302.48" y2="113.4" stroke="#1a1a1a" stroke-width="1.1"/>
<line x1="308.67" y1="110.8" x2="308.67" y2="113.4" stroke="#1a1a1a" stroke-width="1.1"/>
<line x1="314.85" y1="110.8" x2="314.85" y2="113.4" stroke="#1a1a1a" stroke-width="1.1"/>
<line x1="321.04" y1="110.8" x2="321.04" y2="113.4" stroke="#1a1a1a" stroke-width="1.1"/>
<line x1="327.22" y1="110.8" x2="327.22" y2="115.8" stroke="#1a1a1a" stroke-width="1.1"/>
<line x1="333.4" y1="110.8" x2="333.4" y2="113.4" stroke="#1a1a1a" stroke-width="1.1"/>
<line x1="339.59" y1="110.8" x2="339.59" y2="113.4" stroke="#1a1a1a" stroke-width="1.1"/>
<line x1="345.77" y1="110.8" x2="345.77" y2="113.4" stroke="#1a1a1a" stroke-width="1.1"/>
<line x1="351.96" y1="110.8" x2="351.96" y2="113.4" stroke="#1a1a1a" stroke-width="1.1"/>
<line x1="358.14" y1="110.8" x2="358.14" y2="115.8" stroke="#1a1a1a" stroke-width="1.1"/>
<line x1="364.32" y1="110.8" x2="364.32" y2="113.4" stroke="#1a1a1a" stroke-width="1.1"/>
<line x1="370.51" y1="110.8" x2="370.51" y2="113.4" stroke="#1a1a1a" stroke-width="1.1"/>
<line x1="376.69" y1="110.8" x2="376.69" y2="113.4" stroke="#1a1a1a" stroke-width="1.1"/>
<line x1="382.88" y1="110.8" x2="382.88" y2="113.4" stroke="#1a1a1a" stroke-width="1.1"/>
<line x1="389.06" y1="110.8" x2="389.06" y2="115.8" stroke="#1a1a1a" stroke-width="1.1"/>
<line x1="395.24" y1="110.8" x2="395.24" y2="113.4" stroke="#1a1a1a" stroke-width="1.1"/>
<line x1="401.43" y1="110.8" x2="401.43" y2="113.4" stroke="#1a1a1a" stroke-width="1.1"/>
<line x1="407.61" y1="110.8" x2="407.61" y2="113.4" stroke="#1a1a1a" stroke-width="1.1"/>
<line x1="413.8" y1="110.8" x2="413.8" y2="113.4" stroke="#1a1a1a" stroke-width="1.1"/>
<line x1="419.98" y1="110.8" x2="419.98" y2="115.8" stroke="#1a1a1a" stroke-width="1.1"/>
<line x1="426.16" y1="110.8" x2="426.16" y2="113.4" stroke="#1a1a1a" stroke-width="1.1"/>
<line x1="432.35" y1="110.8" x2="432.35" y2="113.4" stroke="#1a1a1a" stroke-width="1.1"/>
<line x1="438.53" y1="110.8" x2="438.53" y2="113.4" stroke="#1a1a1a" stroke-width="1.1"/>
<line x1="444.72" y1="110.8" x2="444.72" y2="113.4" stroke="#1a1a1a" stroke-width="1.1"/>
<line x1="450.9" y1="110.8" x2="450.9" y2="115.8" stroke="#1a1a1a" stroke-width="1.1"/>
<line x1="457.08" y1="110.8" x2="457.08" y2="113.4" stroke="#1a1a1a" stroke-width="1.1"/>
<line x1="463.27" y1="110.8" x2="463.27" y2="113.4" stroke="#1a1a1a" stroke-width="1.1"/>
<text x="290.65" y="25.2" font-size="12.5" fill="#111" stroke="#111" stroke-width="0.15" textLength="15.13" lengthAdjust="spacing">(d)</text>
<text x="255.2" y="90.04" font-size="10.8" fill="#111" stroke="#111" stroke-width="0.15" textLength="71.3" lengthAdjust="spacing" transform="rotate(-90 255.2 90.04)">Stress,σ [psi]</text>
<path d="M296.3,74.2 C296.47,73.22 296.95,70.22 297.3,68.3 C297.65,66.38 297.97,64.72 298.4,62.7 C298.83,60.68 299.38,58.3 299.9,56.2 C300.42,54.1 300.97,51.8 301.5,50.1 C302.03,48.4 302.57,47.22 303.1,46 C303.63,44.78 304.17,43.68 304.7,42.8 C305.23,41.92 305.78,41.3 306.3,40.7 C306.82,40.1 307.03,39.65 307.8,39.2 C308.57,38.75 309.33,38.62 310.9,38 C312.47,37.38 315.1,36.2 317.2,35.5 C319.3,34.8 321.4,34.33 323.5,33.8 C325.6,33.27 327.55,32.8 329.8,32.3 C332.05,31.8 334.47,31.25 337,30.8 C339.53,30.35 342.33,29.98 345,29.6 C347.67,29.22 349.5,28.82 353,28.5 C356.5,28.18 361.5,27.97 366,27.7 C370.5,27.43 376.28,27.22 380,26.9 C383.72,26.58 384.63,26.32 388.3,25.8 C391.97,25.28 397.43,24.48 402,23.8 C406.57,23.12 411.53,22.5 415.7,21.7 C419.87,20.9 423.53,19.85 427,19 C430.47,18.15 434.73,16.72 436.5,16.6 C438.27,16.48 437.22,18.47 437.6,18.3 C437.98,18.13 437.57,16.45 438.8,15.6 C440.03,14.75 443.07,13.97 445,13.2 C446.93,12.43 449.5,11.37 450.4,11" fill="none" stroke="#111" stroke-width="1.05" stroke-linejoin="round" stroke-linecap="round" />
<path d="M450.4,11 C450.3,11.83 450.07,14.17 449.8,16 C449.53,17.83 449.17,20.17 448.8,22 C448.43,23.83 447.95,25.75 447.6,27 C447.25,28.25 447.22,28.17 446.7,29.5 C446.18,30.83 445.32,33.27 444.5,35 C443.68,36.73 442.92,37.77 441.8,39.9 C440.68,42.03 438.8,45.95 437.8,47.8 C436.8,49.65 436.78,49.68 435.8,51 C434.82,52.32 432.93,54.37 431.9,55.7 C430.87,57.03 430.92,57.68 429.6,59 C428.28,60.32 425.65,62.02 424,63.6 C422.35,65.18 422.47,66.27 419.7,68.5 C416.93,70.73 411.52,74.68 407.4,77 C403.28,79.32 399.38,80.8 395,82.4 C390.62,84 385.7,85.33 381.1,86.6 C376.5,87.87 371.97,88.87 367.4,90 C362.83,91.13 358.27,92.33 353.7,93.4 C349.13,94.47 344.18,95.65 340,96.4 C335.82,97.15 331.6,97.42 328.6,97.9 C325.6,98.38 323.77,98.98 322,99.3 C320.23,99.62 318.67,99.72 318,99.8" fill="none" stroke="#111" stroke-width="1.05" stroke-linejoin="round" stroke-linecap="round" />
<polyline points="318,99.8 312,99.8 307.7,100.5 305,99.8 302.1,100.5 300,99.8 296.3,99.7" fill="none" stroke="#111" stroke-width="1.05" stroke-linejoin="round" />
<path d="M324.8,101.2 C325.33,101.18 327,101.25 328,101.1 C329,100.95 329.8,100.9 330.8,100.3 C331.8,99.7 332.97,98.45 334,97.5 C335.03,96.55 336,95.42 337,94.6 C338,93.78 338.5,93.52 340,92.6 C341.5,91.68 343.83,90.2 346,89.1 C348.17,88 350.67,86.97 353,86 C355.33,85.03 357.6,84.12 360,83.3 C362.4,82.48 365.03,81.8 367.4,81.1 C369.77,80.4 371.92,79.78 374.2,79.1 C376.48,78.42 378.82,77.68 381.1,77 C383.38,76.32 385.58,75.73 387.9,75 C390.22,74.27 391.75,73.83 395,72.6 C398.25,71.37 403.28,69.55 407.4,67.6 C411.52,65.65 415.95,63.17 419.7,60.9 C423.45,58.63 427.22,56.02 429.9,54 C432.58,51.98 433.82,50.5 435.8,48.8 C437.78,47.1 439.82,45.78 441.8,43.8 C443.78,41.82 446.22,38.62 447.7,36.9 C449.18,35.18 450.2,34.07 450.7,33.5" fill="none" stroke="#1e1ee6" stroke-width="1.3" stroke-linejoin="round" stroke-linecap="round" />
<path d="M450.7,33.5 C450.37,35.07 449.53,40.18 448.7,42.9 C447.87,45.62 447.18,47 445.7,49.8 C444.22,52.6 442.43,56.23 439.8,59.7 C437.17,63.17 433.2,67.37 429.9,70.6 C426.6,73.83 423.75,76.6 420,79.1 C416.25,81.6 411.57,83.75 407.4,85.6 C403.23,87.45 399.38,88.88 395,90.2 C390.62,91.52 385.7,92.45 381.1,93.5 C376.5,94.55 371.97,95.53 367.4,96.5 C362.83,97.47 358.27,98.58 353.7,99.3 C349.13,100.02 344.8,100.45 340,100.8 C335.2,101.15 327.42,101.3 324.9,101.4" fill="none" stroke="#1e1ee6" stroke-width="1.3" stroke-linejoin="round" stroke-linecap="round" />
<path d="M324.95,100.75 C325.48,100.73 327.15,100.8 328.15,100.65 C329.15,100.5 329.95,100.45 330.95,99.85 C331.95,99.25 333.12,98 334.15,97.05 C335.18,96.1 336.15,94.97 337.15,94.15 C338.15,93.33 338.65,93.07 340.15,92.15 C341.65,91.23 343.98,89.75 346.15,88.65 C348.32,87.55 350.82,86.52 353.15,85.55 C355.48,84.58 357.75,83.67 360.15,82.85 C362.55,82.03 365.18,81.35 367.55,80.65 C369.92,79.95 372.07,79.33 374.35,78.65 C376.63,77.97 378.97,77.23 381.25,76.55 C383.53,75.87 385.73,75.28 388.05,74.55 C390.37,73.82 391.9,73.38 395.15,72.15 C398.4,70.92 403.43,69.1 407.55,67.15 C411.67,65.2 416.1,62.72 419.85,60.45 C423.6,58.18 427.37,55.57 430.05,53.55 C432.73,51.53 433.97,50.05 435.95,48.35 C437.93,46.65 439.97,45.33 441.95,43.35 C443.93,41.37 446.37,38.17 447.85,36.45 C449.33,34.73 450.35,33.62 450.85,33.05" fill="none" stroke="#f02020" stroke-width="1.0" stroke-linejoin="round" stroke-dasharray="1.2 3.2" stroke-linecap="butt"/>
<path d="M450.85,33.05 C450.52,34.62 449.68,39.73 448.85,42.45 C448.02,45.17 447.33,46.55 445.85,49.35 C444.37,52.15 442.58,55.78 439.95,59.25 C437.32,62.72 433.35,66.92 430.05,70.15 C426.75,73.38 423.9,76.15 420.15,78.65 C416.4,81.15 411.72,83.3 407.55,85.15 C403.38,87 399.53,88.43 395.15,89.75 C390.77,91.07 385.85,92 381.25,93.05 C376.65,94.1 372.12,95.08 367.55,96.05 C362.98,97.02 358.42,98.13 353.85,98.85 C349.28,99.57 344.95,100 340.15,100.35 C335.35,100.7 327.57,100.85 325.05,100.95" fill="none" stroke="#f02020" stroke-width="1.0" stroke-linejoin="round" stroke-dasharray="1.2 3.2" stroke-linecap="butt"/>
<text x="345" y="25.6" font-size="10.0" fill="#111" stroke="#111" stroke-width="0.15" textLength="39.9" lengthAdjust="spacing">1st cycle</text>
<text x="364.8" y="63.6" font-size="10.0" fill="#f01818" stroke="#f01818" stroke-width="0.15" textLength="47.02" lengthAdjust="spacing">40th cycle</text>
<text x="378.7" y="105.5" font-size="10.0" fill="#1818f0" stroke="#1818f0" stroke-width="0.15" textLength="53.38" lengthAdjust="spacing">200th cycle</text>
<rect x="279.5" y="121.6" width="185.5" height="105.3" fill="none" stroke="#1a1a1a" stroke-width="1.1"/>
<line x1="274.9" y1="218.2" x2="279.5" y2="218.2" stroke="#1a1a1a" stroke-width="1.1"/>
<text x="273.4" y="222.02" font-size="10.2" text-anchor="end" fill="#111" stroke="#111" stroke-width="0.15">0.0</text>
<line x1="274.9" y1="194.05" x2="279.5" y2="194.05" stroke="#1a1a1a" stroke-width="1.1"/>
<text x="273.4" y="197.87" font-size="10.2" text-anchor="end" fill="#111" stroke="#111" stroke-width="0.15">0.5</text>
<line x1="274.9" y1="169.9" x2="279.5" y2="169.9" stroke="#1a1a1a" stroke-width="1.1"/>
<text x="273.4" y="173.72" font-size="10.2" text-anchor="end" fill="#111" stroke="#111" stroke-width="0.15">1.0</text>
<line x1="274.9" y1="145.75" x2="279.5" y2="145.75" stroke="#1a1a1a" stroke-width="1.1"/>
<text x="273.4" y="149.57" font-size="10.2" text-anchor="end" fill="#111" stroke="#111" stroke-width="0.15">1.5</text>
<line x1="274.9" y1="121.6" x2="279.5" y2="121.6" stroke="#1a1a1a" stroke-width="1.1"/>
<text x="273.4" y="125.42" font-size="10.2" text-anchor="end" fill="#111" stroke="#111" stroke-width="0.15">2.0</text>
<line x1="276.9" y1="206.12" x2="279.5" y2="206.12" stroke="#1a1a1a" stroke-width="1.1"/>
<line x1="276.9" y1="181.97" x2="279.5" y2="181.97" stroke="#1a1a1a" stroke-width="1.1"/>
<line x1="276.9" y1="157.82" x2="279.5" y2="157.82" stroke="#1a1a1a" stroke-width="1.1"/>
<line x1="276.9" y1="133.68" x2="279.5" y2="133.68" stroke="#1a1a1a" stroke-width="1.1"/>
<line x1="282.63" y1="226.9" x2="282.63" y2="229.5" stroke="#1a1a1a" stroke-width="1.1"/>
<line x1="288.82" y1="226.9" x2="288.82" y2="229.5" stroke="#1a1a1a" stroke-width="1.1"/>
<line x1="295" y1="226.9" x2="295" y2="231.9" stroke="#1a1a1a" stroke-width="1.1"/>
<line x1="301.18" y1="226.9" x2="301.18" y2="229.5" stroke="#1a1a1a" stroke-width="1.1"/>
<line x1="307.37" y1="226.9" x2="307.37" y2="229.5" stroke="#1a1a1a" stroke-width="1.1"/>
<line x1="313.55" y1="226.9" x2="313.55" y2="229.5" stroke="#1a1a1a" stroke-width="1.1"/>
<line x1="319.74" y1="226.9" x2="319.74" y2="229.5" stroke="#1a1a1a" stroke-width="1.1"/>
<line x1="325.92" y1="226.9" x2="325.92" y2="231.9" stroke="#1a1a1a" stroke-width="1.1"/>
<line x1="332.1" y1="226.9" x2="332.1" y2="229.5" stroke="#1a1a1a" stroke-width="1.1"/>
<line x1="338.29" y1="226.9" x2="338.29" y2="229.5" stroke="#1a1a1a" stroke-width="1.1"/>
<line x1="344.47" y1="226.9" x2="344.47" y2="229.5" stroke="#1a1a1a" stroke-width="1.1"/>
<line x1="350.66" y1="226.9" x2="350.66" y2="229.5" stroke="#1a1a1a" stroke-width="1.1"/>
<line x1="356.84" y1="226.9" x2="356.84" y2="231.9" stroke="#1a1a1a" stroke-width="1.1"/>
<line x1="363.02" y1="226.9" x2="363.02" y2="229.5" stroke="#1a1a1a" stroke-width="1.1"/>
<line x1="369.21" y1="226.9" x2="369.21" y2="229.5" stroke="#1a1a1a" stroke-width="1.1"/>
<line x1="375.39" y1="226.9" x2="375.39" y2="229.5" stroke="#1a1a1a" stroke-width="1.1"/>
<line x1="381.58" y1="226.9" x2="381.58" y2="229.5" stroke="#1a1a1a" stroke-width="1.1"/>
<line x1="387.76" y1="226.9" x2="387.76" y2="231.9" stroke="#1a1a1a" stroke-width="1.1"/>
<line x1="393.94" y1="226.9" x2="393.94" y2="229.5" stroke="#1a1a1a" stroke-width="1.1"/>
<line x1="400.13" y1="226.9" x2="400.13" y2="229.5" stroke="#1a1a1a" stroke-width="1.1"/>
<line x1="406.31" y1="226.9" x2="406.31" y2="229.5" stroke="#1a1a1a" stroke-width="1.1"/>
<line x1="412.5" y1="226.9" x2="412.5" y2="229.5" stroke="#1a1a1a" stroke-width="1.1"/>
<line x1="418.68" y1="226.9" x2="418.68" y2="231.9" stroke="#1a1a1a" stroke-width="1.1"/>
<line x1="424.86" y1="226.9" x2="424.86" y2="229.5" stroke="#1a1a1a" stroke-width="1.1"/>
<line x1="431.05" y1="226.9" x2="431.05" y2="229.5" stroke="#1a1a1a" stroke-width="1.1"/>
<line x1="437.23" y1="226.9" x2="437.23" y2="229.5" stroke="#1a1a1a" stroke-width="1.1"/>
<line x1="443.42" y1="226.9" x2="443.42" y2="229.5" stroke="#1a1a1a" stroke-width="1.1"/>
<line x1="449.6" y1="226.9" x2="449.6" y2="231.9" stroke="#1a1a1a" stroke-width="1.1"/>
<line x1="455.78" y1="226.9" x2="455.78" y2="229.5" stroke="#1a1a1a" stroke-width="1.1"/>
<line x1="461.97" y1="226.9" x2="461.97" y2="229.5" stroke="#1a1a1a" stroke-width="1.1"/>
<text x="295" y="244.9" font-size="10" text-anchor="middle" fill="#111" stroke="#111" stroke-width="0.15">0.0</text>
<text x="325.92" y="244.9" font-size="10" text-anchor="middle" fill="#111" stroke="#111" stroke-width="0.15">0.1</text>
<text x="356.84" y="244.9" font-size="10" text-anchor="middle" fill="#111" stroke="#111" stroke-width="0.15">0.2</text>
<text x="387.76" y="244.9" font-size="10" text-anchor="middle" fill="#111" stroke="#111" stroke-width="0.15">0.3</text>
<text x="418.68" y="244.9" font-size="10" text-anchor="middle" fill="#111" stroke="#111" stroke-width="0.15">0.4</text>
<text x="449.6" y="244.9" font-size="10" text-anchor="middle" fill="#111" stroke="#111" stroke-width="0.15">0.5</text>
<text x="346.65" y="258.7" font-size="11.0" fill="#111" stroke="#111" stroke-width="0.15" textLength="51.01" lengthAdjust="spacing">Strain,ε []</text>
<text x="290.65" y="141.5" font-size="12.5" fill="#111" stroke="#111" stroke-width="0.15" textLength="15.13" lengthAdjust="spacing">(e)</text>
<text x="254.3" y="206.04" font-size="10.8" fill="#111" stroke="#111" stroke-width="0.15" textLength="70.1" lengthAdjust="spacing" transform="rotate(-90 254.3 206.04)">Stress,σ [psi]</text>
<polyline points="295.1,176.1 295.8,171 296.8,167.5 298.3,164.5 300.3,162.4 302.5,161.3 305.4,160.3 308,159.6 310.5,159 313.1,156.9 313.6,152 314,150.4 315.7,149 318,149.2 320.8,148.7 321.4,152.5 321.7,153 323.4,151.8 327.6,150.4 334,149.6 341.3,148.7 350,147.4 358.4,146.1 367,144.4 373,143.7 379,143.2 382.4,143.9 384.1,146.6 388,146.8 392.8,146.9 395,146.1 400.7,144.6 406.4,144.4 412.1,143.8 416.7,142.7 418.4,143.8 420.1,145.5 422.4,143.2 425.2,141.5 426.4,139.3 427.5,142.1 429.2,139.3 431.5,139.3 432.6,141.5 435.5,138.7 436.6,137 437.8,140.4 440,139.3 442.3,139.3 444,135.3 446.9,135.3 449.2,133.2 448.9,140 448.6,147.8 446.9,155 445.6,160 443.5,169 439.7,178.8 436.5,185 432.6,190.6 426,196.5 418.5,201.2 412,205 408,207.2 406.8,209 405.5,207.8 404,209.3 395,210.6 384.2,213.2 374,215.2 363.7,216.8 356.5,218 344.5,218 344.1,221.7 343.8,218 341.9,217.2 340.2,216.8 338.4,218 338,222.5 337.7,218 336,217 334,216.3 332,216.8 330.6,218 330.3,220 330,218 320,218 319.6,221.6 319.3,218 317.6,217.5 315,216.8 313,216.6 311,217 309.6,218 309.3,222.7 309,218 296.4,218" fill="none" stroke="#333" stroke-width="1.0" stroke-linejoin="round" />
<path d="M356.8,216.8 C357.5,216.5 359.47,215.58 361,215 C362.53,214.42 363.67,214.2 366,213.3 C368.33,212.4 371.97,210.73 375,209.6 C378.03,208.47 380.87,207.52 384.2,206.5 C387.53,205.48 391.2,204.78 395,203.5 C398.8,202.22 403.08,200.37 407,198.8 C410.92,197.23 414.62,196.25 418.5,194.1 C422.38,191.95 427.38,187.92 430.3,185.9 C433.22,183.88 434.23,183.18 436,182 C437.77,180.82 439.43,180.05 440.9,178.8 C442.37,177.55 443.63,176.07 444.8,174.5 C445.97,172.93 447.38,170.25 447.9,169.4" fill="none" stroke="#e83030" stroke-width="1.15" stroke-linejoin="round" stroke-linecap="round" />
<path d="M447.9,169.4 C447.8,170.33 447.48,173.03 447.3,175 C447.12,176.97 447.38,178.95 446.8,181.2 C446.22,183.45 444.98,186.15 443.8,188.5 C442.62,190.85 441.67,193 439.7,195.3 C437.73,197.6 434.75,200.3 432,202.3 C429.25,204.3 427.4,205.48 423.2,207.3 C419,209.12 411.5,211.82 406.8,213.2 C402.1,214.58 398.77,214.9 395,215.6 C391.23,216.3 389.42,216.93 384.2,217.4 C378.98,217.87 368.27,218.3 363.7,218.4 C359.13,218.5 357.95,218.07 356.8,218" fill="none" stroke="#e83030" stroke-width="1.15" stroke-linejoin="round" stroke-linecap="round" />
<path d="M359,217.9 C359.67,217.63 361.45,216.87 363,216.3 C364.55,215.73 366.13,215.38 368.3,214.5 C370.47,213.62 373.35,212.22 376,211 C378.65,209.78 381.03,208.63 384.2,207.2 C387.37,205.77 391.2,203.97 395,202.4 C398.8,200.83 403.08,199.37 407,197.8 C410.92,196.23 415.42,194.53 418.5,193 C421.58,191.47 423.15,190.18 425.5,188.6 C427.85,187.02 430.6,185.1 432.6,183.5 C434.6,181.9 435.92,180.57 437.5,179 C439.08,177.43 440.68,175.85 442.1,174.1 C443.52,172.35 444.83,170.45 446,168.5 C447.17,166.55 448.58,163.42 449.1,162.4" fill="none" stroke="#2a6ae0" stroke-width="1.15" stroke-linejoin="round" stroke-linecap="round" />
<path d="M449.1,162.4 C448.88,164 448.38,168.48 447.8,172 C447.22,175.52 446.57,180.42 445.6,183.5 C444.63,186.58 443.37,188.15 442,190.5 C440.63,192.85 439.23,195.55 437.4,197.6 C435.57,199.65 433.37,201.22 431,202.8 C428.63,204.38 425.87,205.85 423.2,207.1 C420.53,208.35 417.73,209.33 415,210.3 C412.27,211.27 410.13,212.07 406.8,212.9 C403.47,213.73 398.77,214.62 395,215.3 C391.23,215.98 388.37,216.52 384.2,217 C380.03,217.48 374.2,217.97 370,218.2 C365.8,218.43 360.83,218.37 359,218.4" fill="none" stroke="#2a6ae0" stroke-width="1.15" stroke-linejoin="round" stroke-linecap="round" />
<text x="343.5" y="137.3" font-size="10.0" fill="#111" stroke="#111" stroke-width="0.15" textLength="40.3" lengthAdjust="spacing">1st cycle</text>
<text x="370.9" y="190.4" font-size="10.0" fill="#f01818" stroke="#f01818" stroke-width="0.15" textLength="46.92" lengthAdjust="spacing">40th cycle</text>
<text x="405.8" y="222.5" font-size="10.0" fill="#1818f0" stroke="#1818f0" stroke-width="0.15" textLength="52.48" lengthAdjust="spacing">160th cycle</text>
<line x1="528.8" y1="30.4" x2="714" y2="30.4" stroke="#222" stroke-width="1.1"/>
<line x1="714" y1="30.4" x2="714" y2="190.6" stroke="#222" stroke-width="1.1"/>
<line x1="528.3" y1="190.6" x2="714.5" y2="190.6" stroke="#222" stroke-width="1.1"/>
<line x1="528.8" y1="29.9" x2="528.8" y2="190.6" stroke="#666" stroke-width="1.1"/>
<line x1="519.8" y1="190.6" x2="528.8" y2="190.6" stroke="#666" stroke-width="1.1"/>
<text x="517.2" y="195" font-size="12.3" text-anchor="end" fill="#555" stroke="#555" stroke-width="0.15">0</text>
<line x1="519.8" y1="163.9" x2="528.8" y2="163.9" stroke="#666" stroke-width="1.1"/>
<text x="517.2" y="168.3" font-size="12.3" text-anchor="end" fill="#555" stroke="#555" stroke-width="0.15">50</text>
<line x1="519.8" y1="137.2" x2="528.8" y2="137.2" stroke="#666" stroke-width="1.1"/>
<text x="517.2" y="141.6" font-size="12.3" text-anchor="end" fill="#555" stroke="#555" stroke-width="0.15">100</text>
<line x1="519.8" y1="110.5" x2="528.8" y2="110.5" stroke="#666" stroke-width="1.1"/>
<text x="517.2" y="114.9" font-size="12.3" text-anchor="end" fill="#555" stroke="#555" stroke-width="0.15">150</text>
<line x1="519.8" y1="83.8" x2="528.8" y2="83.8" stroke="#666" stroke-width="1.1"/>
<text x="517.2" y="88.2" font-size="12.3" text-anchor="end" fill="#555" stroke="#555" stroke-width="0.15">200</text>
<line x1="519.8" y1="57.1" x2="528.8" y2="57.1" stroke="#666" stroke-width="1.1"/>
<text x="517.2" y="61.5" font-size="12.3" text-anchor="end" fill="#555" stroke="#555" stroke-width="0.15">250</text>
<line x1="519.8" y1="30.4" x2="528.8" y2="30.4" stroke="#666" stroke-width="1.1"/>
<text x="517.2" y="34.8" font-size="12.3" text-anchor="end" fill="#555" stroke="#555" stroke-width="0.15">300</text>
<line x1="524.3" y1="177.25" x2="528.8" y2="177.25" stroke="#666" stroke-width="1.1"/>
<line x1="524.3" y1="150.55" x2="528.8" y2="150.55" stroke="#666" stroke-width="1.1"/>
<line x1="524.3" y1="123.85" x2="528.8" y2="123.85" stroke="#666" stroke-width="1.1"/>
<line x1="524.3" y1="97.15" x2="528.8" y2="97.15" stroke="#666" stroke-width="1.1"/>
<line x1="524.3" y1="70.45" x2="528.8" y2="70.45" stroke="#666" stroke-width="1.1"/>
<line x1="524.3" y1="43.75" x2="528.8" y2="43.75" stroke="#666" stroke-width="1.1"/>
<line x1="528.8" y1="190.6" x2="528.8" y2="199.1" stroke="#222" stroke-width="1.1"/>
<text x="528.8" y="214.6" font-size="12.3" text-anchor="middle" fill="#111" stroke="#111" stroke-width="0.15">0</text>
<line x1="547.32" y1="190.6" x2="547.32" y2="195.1" stroke="#222" stroke-width="1.1"/>
<line x1="565.84" y1="190.6" x2="565.84" y2="199.1" stroke="#222" stroke-width="1.1"/>
<text x="565.84" y="214.6" font-size="12.3" text-anchor="middle" fill="#111" stroke="#111" stroke-width="0.15">100</text>
<line x1="584.36" y1="190.6" x2="584.36" y2="195.1" stroke="#222" stroke-width="1.1"/>
<line x1="602.88" y1="190.6" x2="602.88" y2="199.1" stroke="#222" stroke-width="1.1"/>
<text x="602.88" y="214.6" font-size="12.3" text-anchor="middle" fill="#111" stroke="#111" stroke-width="0.15">200</text>
<line x1="621.4" y1="190.6" x2="621.4" y2="195.1" stroke="#222" stroke-width="1.1"/>
<line x1="639.92" y1="190.6" x2="639.92" y2="199.1" stroke="#222" stroke-width="1.1"/>
<text x="639.92" y="214.6" font-size="12.3" text-anchor="middle" fill="#111" stroke="#111" stroke-width="0.15">300</text>
<line x1="658.44" y1="190.6" x2="658.44" y2="195.1" stroke="#222" stroke-width="1.1"/>
<line x1="676.96" y1="190.6" x2="676.96" y2="199.1" stroke="#222" stroke-width="1.1"/>
<text x="676.96" y="214.6" font-size="12.3" text-anchor="middle" fill="#111" stroke="#111" stroke-width="0.15">400</text>
<line x1="695.48" y1="190.6" x2="695.48" y2="195.1" stroke="#222" stroke-width="1.1"/>
<line x1="714" y1="190.6" x2="714" y2="199.1" stroke="#222" stroke-width="1.1"/>
<text x="714" y="214.6" font-size="12.3" text-anchor="middle" fill="#111" stroke="#111" stroke-width="0.15">500</text>
<text x="530.02" y="234.9" font-size="12.3" fill="#111" stroke="#111" stroke-width="0.15" textLength="183.13" lengthAdjust="spacing">Mechanical Compression Cycles</text>
<text x="490.4" y="144.98" font-size="11.0" fill="#555" stroke="#555" stroke-width="0.15" textLength="77.22" lengthAdjust="spacing" transform="rotate(-90 490.4 144.98)">Resistance [Ω]</text>
<text x="538.95" y="46.8" font-size="12.5" fill="#111" stroke="#111" stroke-width="0.15" textLength="11.95" lengthAdjust="spacing">(f)</text>
<text x="593.05" y="88.9" font-size="12.5" fill="#555" stroke="#555" stroke-width="0.15" textLength="11.08" lengthAdjust="spacing">(i)</text>
<text x="642.25" y="88.9" font-size="12.5" fill="#e83a3a" stroke="#e83a3a" stroke-width="0.15" textLength="14.3" lengthAdjust="spacing">(ii)</text>
<text x="556.29" y="119.8" font-size="10.2" fill="#e83a3a" stroke="#e83a3a" stroke-width="0.15" textLength="141.61" lengthAdjust="spacing">(ii) After Rinsing and Wringing</text>
<text x="599.49" y="139.7" font-size="10.2" fill="#d4a017" stroke="#d4a017" stroke-width="0.15" textLength="73.46" lengthAdjust="spacing">m = 0.3 Ω/cycle</text>
<text x="623.69" y="164.6" font-size="10.2" fill="#555" stroke="#555" stroke-width="0.15" textLength="60.75" lengthAdjust="spacing">(i) As-formed</text>
<text x="593.49" y="186.4" font-size="10.2" fill="#3278dc" stroke="#3278dc" stroke-width="0.15" textLength="79.43" lengthAdjust="spacing">m = 0.02 Ω/cycle</text>

<defs>
<linearGradient id="bg1" x1="0" y1="0" x2="1" y2="1"><stop offset="0" stop-color="#dadada"/><stop offset="1" stop-color="#f3f3f3"/></linearGradient>
<linearGradient id="bg2" x1="0" y1="0" x2="0" y2="1"><stop offset="0" stop-color="#d6d6d6"/><stop offset="1" stop-color="#ececec"/></linearGradient>
<filter id="bl" x="-20%" y="-20%" width="140%" height="140%"><feGaussianBlur stdDeviation="0.55"/></filter>
<filter id="bl2" x="-30%" y="-30%" width="160%" height="160%"><feGaussianBlur stdDeviation="1.3"/></filter>
<filter id="tex" x="0" y="0" width="100%" height="100%"><feTurbulence type="fractalNoise" baseFrequency="0.7" numOctaves="2" seed="4" result="n"/><feColorMatrix in="n" type="matrix" values="0 0 0 0 0.45  0 0 0 0 0.45  0 0 0 0 0.45  0 0 0 1.6 -0.55" result="m"/><feComposite in="m" in2="SourceGraphic" operator="in"/></filter>
</defs>
<rect x="575.8" y="34.7" width="45.8" height="42.6" fill="url(#bg1)"/>
<path d="M577.5,44 L583.5,40 L586,73 L579.5,75 Z" fill="#8c8c8c" filter="url(#bl2)"/>
<path d="M582.8,38.6 Q582.8,37.1 584.5,37 L613.5,36.1 Q615.3,36 615.8,37.5 Q618.7,50 618.4,66.5 Q618.3,68.3 616.5,68.5 L587,72.1 Q585.2,72.3 585,70.5 Z" fill="#1c1c1c" filter="url(#bl)"/>
<path d="M584,39 L613.5,37.2 Q616.8,50 617.2,66.5 L587,70.8 Z" fill="#000" filter="url(#tex)" opacity="0.22"/>
<rect x="629.6" y="34.7" width="42.2" height="42.9" fill="url(#bg2)"/>
<path d="M632,48 L635,42 L640,71 L668,70.5 L668.5,74.5 L637.5,75.5 Z" fill="#8e8e8e" filter="url(#bl2)"/>
<path d="M634.2,42.4 Q634.3,41.1 635.6,41.1 L664.3,40.8 L669.8,44.8 L669.4,68.5 Q669.3,70.5 667.5,70.6 L640.2,71.3 Q638.8,71.3 638.6,70 Z" fill="#1a1a1a" filter="url(#bl)"/>
<path d="M635,41.7 L664.2,41.2 L669,44.9 L636.5,45.6 Z" fill="#262626" filter="url(#bl)"/>
<path d="M635.5,42.3 L664,42 L668.4,45.5 L668,68 L640.5,70 Z" fill="#000" filter="url(#tex)" opacity="0.22"/>

<rect x="548.49" y="153.31" width="1.4" height="1.4" fill="#ec3030"/>
<rect x="569.09" y="138.55" width="1.4" height="1.4" fill="#ec3030"/>
<rect x="561.84" y="149.16" width="1.4" height="1.4" fill="#ec3030"/>
<rect x="531.75" y="168.5" width="1.4" height="1.4" fill="#ec3030"/>
<rect x="530.46" y="168.28" width="1.4" height="1.4" fill="#ec3030"/>
<rect x="532.5" y="162.67" width="1.4" height="1.4" fill="#ec3030"/>
<rect x="554.83" y="161.71" width="1.4" height="1.4" fill="#ec3030"/>
<rect x="535.9" y="162.3" width="1.4" height="1.4" fill="#ec3030"/>
<rect x="567.61" y="158.28" width="1.4" height="1.4" fill="#ec3030"/>
<rect x="564.44" y="148.29" width="1.4" height="1.4" fill="#ec3030"/>
<rect x="589.57" y="124.49" width="1.4" height="1.4" fill="#ec3030"/>
<rect x="582.16" y="135.44" width="1.4" height="1.4" fill="#ec3030"/>
<rect x="537.18" y="160.01" width="1.4" height="1.4" fill="#ec3030"/>
<rect x="547.52" y="164.98" width="1.4" height="1.4" fill="#ec3030"/>
<rect x="539.48" y="165.35" width="1.4" height="1.4" fill="#ec3030"/>
<rect x="568.33" y="145.53" width="1.4" height="1.4" fill="#ec3030"/>
<rect x="562.59" y="142.6" width="1.4" height="1.4" fill="#ec3030"/>
<rect x="531.85" y="164.57" width="1.4" height="1.4" fill="#ec3030"/>
<rect x="570.94" y="145.24" width="1.4" height="1.4" fill="#ec3030"/>
<rect x="547.88" y="160.96" width="1.4" height="1.4" fill="#ec3030"/>
<rect x="556.64" y="150.95" width="1.4" height="1.4" fill="#ec3030"/>
<rect x="578.12" y="147.67" width="1.4" height="1.4" fill="#ec3030"/>
<rect x="543.47" y="163.12" width="1.4" height="1.4" fill="#ec3030"/>
<rect x="561.17" y="159.68" width="1.4" height="1.4" fill="#ec3030"/>
<rect x="574.03" y="140.28" width="1.4" height="1.4" fill="#ec3030"/>
<rect x="589.82" y="126.24" width="1.4" height="1.4" fill="#ec3030"/>
<rect x="554.43" y="160.63" width="1.4" height="1.4" fill="#ec3030"/>
<rect x="537.67" y="164.99" width="1.4" height="1.4" fill="#ec3030"/>
<rect x="530.57" y="171.16" width="1.4" height="1.4" fill="#ec3030"/>
<rect x="576.24" y="145.65" width="1.4" height="1.4" fill="#ec3030"/>
<rect x="583.23" y="135.4" width="1.4" height="1.4" fill="#ec3030"/>
<rect x="571.88" y="148.45" width="1.4" height="1.4" fill="#ec3030"/>
<rect x="564.61" y="149.42" width="1.4" height="1.4" fill="#ec3030"/>
<rect x="580.99" y="152.28" width="1.4" height="1.4" fill="#ec3030"/>
<rect x="557.95" y="157.13" width="1.4" height="1.4" fill="#ec3030"/>
<rect x="531.92" y="170.9" width="1.4" height="1.4" fill="#ec3030"/>
<rect x="568.85" y="158.71" width="1.4" height="1.4" fill="#ec3030"/>
<rect x="579.85" y="136.69" width="1.4" height="1.4" fill="#ec3030"/>
<rect x="552.39" y="160.05" width="1.4" height="1.4" fill="#ec3030"/>
<rect x="529.52" y="169.16" width="1.4" height="1.4" fill="#ec3030"/>
<rect x="538.68" y="159.04" width="1.4" height="1.4" fill="#ec3030"/>
<rect x="531.81" y="171.81" width="1.4" height="1.4" fill="#ec3030"/>
<rect x="536.24" y="162.42" width="1.4" height="1.4" fill="#ec3030"/>
<rect x="552.72" y="163.5" width="1.4" height="1.4" fill="#ec3030"/>
<rect x="533.17" y="166.95" width="1.4" height="1.4" fill="#ec3030"/>
<rect x="562.7" y="159.15" width="1.4" height="1.4" fill="#ec3030"/>
<rect x="579.69" y="150.89" width="1.4" height="1.4" fill="#ec3030"/>
<rect x="545.63" y="159.4" width="1.4" height="1.4" fill="#ec3030"/>
<rect x="550.69" y="164.66" width="1.4" height="1.4" fill="#ec3030"/>
<rect x="588.41" y="128.02" width="1.4" height="1.4" fill="#ec3030"/>
<rect x="539.2" y="160.39" width="1.4" height="1.4" fill="#ec3030"/>
<rect x="542.79" y="162.1" width="1.4" height="1.4" fill="#ec3030"/>
<rect x="565.2" y="145.06" width="1.4" height="1.4" fill="#ec3030"/>
<rect x="528.36" y="169.29" width="1.4" height="1.4" fill="#ec3030"/>
<rect x="551.35" y="158.78" width="1.4" height="1.4" fill="#ec3030"/>
<rect x="588.11" y="142.42" width="1.4" height="1.4" fill="#ec3030"/>
<rect x="560.56" y="154.88" width="1.4" height="1.4" fill="#ec3030"/>
<rect x="570.68" y="137.1" width="1.4" height="1.4" fill="#ec3030"/>
<rect x="584.74" y="146.41" width="1.4" height="1.4" fill="#ec3030"/>
<rect x="583.17" y="147.62" width="1.4" height="1.4" fill="#ec3030"/>
<rect x="552.81" y="155.01" width="1.4" height="1.4" fill="#ec3030"/>
<rect x="534.62" y="168.64" width="1.4" height="1.4" fill="#ec3030"/>
<rect x="532.02" y="162.68" width="1.4" height="1.4" fill="#ec3030"/>
<rect x="541.25" y="158.08" width="1.4" height="1.4" fill="#ec3030"/>
<rect x="549.51" y="150.99" width="1.4" height="1.4" fill="#ec3030"/>
<rect x="528.11" y="166.23" width="1.4" height="1.4" fill="#ec3030"/>
<rect x="534.49" y="165.06" width="1.4" height="1.4" fill="#ec3030"/>
<rect x="529.71" y="174.15" width="1.4" height="1.4" fill="#ec3030"/>
<rect x="566.77" y="141.68" width="1.4" height="1.4" fill="#ec3030"/>
<rect x="543.98" y="159.27" width="1.4" height="1.4" fill="#ec3030"/>
<rect x="551.03" y="151.21" width="1.4" height="1.4" fill="#ec3030"/>
<rect x="581.56" y="153.23" width="1.4" height="1.4" fill="#ec3030"/>
<rect x="557.44" y="153.96" width="1.4" height="1.4" fill="#ec3030"/>
<rect x="533.51" y="162.16" width="1.4" height="1.4" fill="#ec3030"/>
<rect x="549.68" y="154.51" width="1.4" height="1.4" fill="#ec3030"/>
<rect x="580.29" y="133.42" width="1.4" height="1.4" fill="#ec3030"/>
<rect x="529.55" y="175.16" width="1.4" height="1.4" fill="#ec3030"/>
<rect x="561.36" y="145.07" width="1.4" height="1.4" fill="#ec3030"/>
<rect x="562.3" y="142.06" width="1.4" height="1.4" fill="#ec3030"/>
<rect x="561.35" y="161.66" width="1.4" height="1.4" fill="#ec3030"/>
<rect x="582.46" y="145.42" width="1.4" height="1.4" fill="#ec3030"/>
<rect x="544.54" y="159.25" width="1.4" height="1.4" fill="#ec3030"/>
<rect x="538.62" y="168.56" width="1.4" height="1.4" fill="#ec3030"/>
<rect x="561.64" y="157.55" width="1.4" height="1.4" fill="#ec3030"/>
<rect x="548.86" y="154.3" width="1.4" height="1.4" fill="#ec3030"/>
<rect x="579.2" y="154.05" width="1.4" height="1.4" fill="#ec3030"/>
<rect x="581.79" y="148.48" width="1.4" height="1.4" fill="#ec3030"/>
<rect x="579.63" y="147.9" width="1.4" height="1.4" fill="#ec3030"/>
<rect x="542.38" y="162.83" width="1.4" height="1.4" fill="#ec3030"/>
<rect x="550.49" y="149.94" width="1.4" height="1.4" fill="#ec3030"/>
<rect x="529.86" y="166.71" width="1.4" height="1.4" fill="#ec3030"/>
<rect x="544.42" y="164.49" width="1.4" height="1.4" fill="#ec3030"/>
<rect x="588.33" y="135.89" width="1.4" height="1.4" fill="#ec3030"/>
<rect x="587.1" y="150.7" width="1.4" height="1.4" fill="#ec3030"/>
<rect x="588.23" y="133.76" width="1.4" height="1.4" fill="#ec3030"/>
<rect x="541.98" y="158.6" width="1.4" height="1.4" fill="#ec3030"/>
<rect x="540.49" y="159.19" width="1.4" height="1.4" fill="#ec3030"/>
<rect x="567.4" y="157.36" width="1.4" height="1.4" fill="#ec3030"/>
<rect x="581.02" y="140.8" width="1.4" height="1.4" fill="#ec3030"/>
<rect x="569.22" y="154.33" width="1.4" height="1.4" fill="#ec3030"/>
<rect x="533.44" y="169.6" width="1.4" height="1.4" fill="#ec3030"/>
<rect x="585.39" y="146.16" width="1.4" height="1.4" fill="#ec3030"/>
<rect x="575.33" y="143.92" width="1.4" height="1.4" fill="#ec3030"/>
<rect x="539.34" y="168.46" width="1.4" height="1.4" fill="#ec3030"/>
<rect x="549.04" y="164" width="1.4" height="1.4" fill="#ec3030"/>
<rect x="589.28" y="133.98" width="1.4" height="1.4" fill="#ec3030"/>
<rect x="553.37" y="164.56" width="1.4" height="1.4" fill="#ec3030"/>
<rect x="573.74" y="137.75" width="1.4" height="1.4" fill="#ec3030"/>
<rect x="536.1" y="161.17" width="1.4" height="1.4" fill="#ec3030"/>
<rect x="585.08" y="146.93" width="1.4" height="1.4" fill="#ec3030"/>
<rect x="537.3" y="169.97" width="1.4" height="1.4" fill="#ec3030"/>
<rect x="589.83" y="140.67" width="1.4" height="1.4" fill="#ec3030"/>
<rect x="550.16" y="159.11" width="1.4" height="1.4" fill="#ec3030"/>
<rect x="536.35" y="159.11" width="1.4" height="1.4" fill="#ec3030"/>
<rect x="589.24" y="140.77" width="1.4" height="1.4" fill="#ec3030"/>
<rect x="561.26" y="160.81" width="1.4" height="1.4" fill="#ec3030"/>
<rect x="555.42" y="162.27" width="1.4" height="1.4" fill="#ec3030"/>
<rect x="580.12" y="134.74" width="1.4" height="1.4" fill="#ec3030"/>
<rect x="543.96" y="158.43" width="1.4" height="1.4" fill="#ec3030"/>
<rect x="543.25" y="163.43" width="1.4" height="1.4" fill="#ec3030"/>
<rect x="544.43" y="160.14" width="1.4" height="1.4" fill="#ec3030"/>
<rect x="536.35" y="171.58" width="1.4" height="1.4" fill="#ec3030"/>
<rect x="550.38" y="157.43" width="1.4" height="1.4" fill="#ec3030"/>
<rect x="564.83" y="158.6" width="1.4" height="1.4" fill="#ec3030"/>
<rect x="554.59" y="163.49" width="1.4" height="1.4" fill="#ec3030"/>
<rect x="559.69" y="153.66" width="1.4" height="1.4" fill="#ec3030"/>
<rect x="561.06" y="142.72" width="1.4" height="1.4" fill="#ec3030"/>
<rect x="555.81" y="149.27" width="1.4" height="1.4" fill="#ec3030"/>
<rect x="528.35" y="173.87" width="1.4" height="1.4" fill="#ec3030"/>
<rect x="538.95" y="164.06" width="1.4" height="1.4" fill="#ec3030"/>
<rect x="573.76" y="146.59" width="1.4" height="1.4" fill="#ec3030"/>
<rect x="548.63" y="159.43" width="1.4" height="1.4" fill="#ec3030"/>
<rect x="563.08" y="156.96" width="1.4" height="1.4" fill="#ec3030"/>
<rect x="534.78" y="167.55" width="1.4" height="1.4" fill="#ec3030"/>
<rect x="543.75" y="158.3" width="1.4" height="1.4" fill="#ec3030"/>
<rect x="576.73" y="143.85" width="1.4" height="1.4" fill="#ec3030"/>
<rect x="563.47" y="156.27" width="1.4" height="1.4" fill="#ec3030"/>
<rect x="585.56" y="137.35" width="1.4" height="1.4" fill="#ec3030"/>
<rect x="566.67" y="149.31" width="1.4" height="1.4" fill="#ec3030"/>
<rect x="560.35" y="156.47" width="1.4" height="1.4" fill="#ec3030"/>
<rect x="556.58" y="155.37" width="1.4" height="1.4" fill="#ec3030"/>
<rect x="558.2" y="162.32" width="1.4" height="1.4" fill="#ec3030"/>
<rect x="572.13" y="154.67" width="1.4" height="1.4" fill="#ec3030"/>
<rect x="587.43" y="131.48" width="1.4" height="1.4" fill="#ec3030"/>
<rect x="563.33" y="160.08" width="1.4" height="1.4" fill="#ec3030"/>
<rect x="580.99" y="132.38" width="1.4" height="1.4" fill="#ec3030"/>
<rect x="535.76" y="165.4" width="1.4" height="1.4" fill="#ec3030"/>
<rect x="532.67" y="164.51" width="1.4" height="1.4" fill="#ec3030"/>
<rect x="532.7" y="170.09" width="1.4" height="1.4" fill="#ec3030"/>
<rect x="577.46" y="152.71" width="1.4" height="1.4" fill="#ec3030"/>
<rect x="537.83" y="168.15" width="1.4" height="1.4" fill="#ec3030"/>
<rect x="569.68" y="139.71" width="1.4" height="1.4" fill="#ec3030"/>
<rect x="583.69" y="151.66" width="1.4" height="1.4" fill="#ec3030"/>
<rect x="541.93" y="169.72" width="1.4" height="1.4" fill="#ec3030"/>
<rect x="553.18" y="156.39" width="1.4" height="1.4" fill="#ec3030"/>
<rect x="590.43" y="145.07" width="1.4" height="1.4" fill="#ec3030"/>
<rect x="538.27" y="163.83" width="1.4" height="1.4" fill="#ec3030"/>
<rect x="560.57" y="149.38" width="1.4" height="1.4" fill="#ec3030"/>
<rect x="540.43" y="160.93" width="1.4" height="1.4" fill="#ec3030"/>
<rect x="573.57" y="134.41" width="1.4" height="1.4" fill="#ec3030"/>
<rect x="562.99" y="150.01" width="1.4" height="1.4" fill="#ec3030"/>
<rect x="529.24" y="167.72" width="1.4" height="1.4" fill="#ec3030"/>
<rect x="567.39" y="149.06" width="1.4" height="1.4" fill="#ec3030"/>
<rect x="532.15" y="174.45" width="1.4" height="1.4" fill="#ec3030"/>
<rect x="577.74" y="154.36" width="1.4" height="1.4" fill="#ec3030"/>
<rect x="534.7" y="163.61" width="1.4" height="1.4" fill="#ec3030"/>
<rect x="530.59" y="172.54" width="1.4" height="1.4" fill="#ec3030"/>
<rect x="545.13" y="155.1" width="1.4" height="1.4" fill="#ec3030"/>
<rect x="554.69" y="163.33" width="1.4" height="1.4" fill="#ec3030"/>
<rect x="579.67" y="136.17" width="1.4" height="1.4" fill="#ec3030"/>
<rect x="537.51" y="171.19" width="1.4" height="1.4" fill="#ec3030"/>
<rect x="564.03" y="154.77" width="1.4" height="1.4" fill="#ec3030"/>
<rect x="533.73" y="161.43" width="1.4" height="1.4" fill="#ec3030"/>
<rect x="571.43" y="144.91" width="1.4" height="1.4" fill="#ec3030"/>
<rect x="532.66" y="173.62" width="1.4" height="1.4" fill="#ec3030"/>
<rect x="568.05" y="154.93" width="1.4" height="1.4" fill="#ec3030"/>
<rect x="533.37" y="172.22" width="1.4" height="1.4" fill="#ec3030"/>
<rect x="532.3" y="172.8" width="1.4" height="1.4" fill="#ec3030"/>
<rect x="556.67" y="151.67" width="1.4" height="1.4" fill="#ec3030"/>
<rect x="562.93" y="159.92" width="1.4" height="1.4" fill="#ec3030"/>
<rect x="544.97" y="155.2" width="1.4" height="1.4" fill="#ec3030"/>
<rect x="561.28" y="146.95" width="1.4" height="1.4" fill="#ec3030"/>
<rect x="534.99" y="162.01" width="1.4" height="1.4" fill="#ec3030"/>
<rect x="531.27" y="164.87" width="1.4" height="1.4" fill="#ec3030"/>
<rect x="547.75" y="156.35" width="1.4" height="1.4" fill="#ec3030"/>
<rect x="575.92" y="139.19" width="1.4" height="1.4" fill="#ec3030"/>
<rect x="559.59" y="146.81" width="1.4" height="1.4" fill="#ec3030"/>
<rect x="549.95" y="150.11" width="1.4" height="1.4" fill="#ec3030"/>
<rect x="543.87" y="154.11" width="1.4" height="1.4" fill="#ec3030"/>
<rect x="574.26" y="146.2" width="1.4" height="1.4" fill="#ec3030"/>
<rect x="540.03" y="163.47" width="1.4" height="1.4" fill="#ec3030"/>
<rect x="586.95" y="127.77" width="1.4" height="1.4" fill="#ec3030"/>
<rect x="579.67" y="140.4" width="1.4" height="1.4" fill="#ec3030"/>
<rect x="559.27" y="159.77" width="1.4" height="1.4" fill="#ec3030"/>
<rect x="552.85" y="156.92" width="1.4" height="1.4" fill="#ec3030"/>
<rect x="571.41" y="157.37" width="1.4" height="1.4" fill="#ec3030"/>
<rect x="549.68" y="164.23" width="1.4" height="1.4" fill="#ec3030"/>
<rect x="572.6" y="149.01" width="1.4" height="1.4" fill="#ec3030"/>
<rect x="553.58" y="153.64" width="1.4" height="1.4" fill="#ec3030"/>
<rect x="531.52" y="163.8" width="1.4" height="1.4" fill="#ec3030"/>
<rect x="532.55" y="171.1" width="1.4" height="1.4" fill="#ec3030"/>
<rect x="544.19" y="156.23" width="1.4" height="1.4" fill="#ec3030"/>
<rect x="533.42" y="172" width="1.4" height="1.4" fill="#ec3030"/>
<rect x="582.92" y="144.54" width="1.4" height="1.4" fill="#ec3030"/>
<rect x="545.85" y="156.47" width="1.4" height="1.4" fill="#ec3030"/>
<rect x="546.55" y="159.6" width="1.4" height="1.4" fill="#ec3030"/>
<rect x="538.02" y="164.18" width="1.4" height="1.4" fill="#ec3030"/>
<rect x="544.68" y="168.65" width="1.4" height="1.4" fill="#ec3030"/>
<rect x="589.34" y="137.98" width="1.4" height="1.4" fill="#ec3030"/>
<rect x="543.49" y="169.23" width="1.4" height="1.4" fill="#ec3030"/>
<rect x="547.59" y="157.3" width="1.4" height="1.4" fill="#ec3030"/>
<rect x="528.17" y="168.96" width="1.4" height="1.4" fill="#ec3030"/>
<rect x="557.99" y="154.02" width="1.4" height="1.4" fill="#ec3030"/>
<rect x="540.76" y="163.52" width="1.4" height="1.4" fill="#ec3030"/>
<rect x="528.41" y="167.4" width="1.4" height="1.4" fill="#ec3030"/>
<rect x="533.75" y="165.96" width="1.4" height="1.4" fill="#ec3030"/>
<rect x="530.72" y="162.96" width="1.4" height="1.4" fill="#ec3030"/>
<rect x="547.26" y="155.45" width="1.4" height="1.4" fill="#ec3030"/>
<rect x="564.97" y="150.74" width="1.4" height="1.4" fill="#ec3030"/>
<rect x="575.36" y="148.09" width="1.4" height="1.4" fill="#ec3030"/>
<rect x="573.18" y="154.25" width="1.4" height="1.4" fill="#ec3030"/>
<rect x="552.63" y="153.82" width="1.4" height="1.4" fill="#ec3030"/>
<rect x="590.11" y="126.9" width="1.4" height="1.4" fill="#ec3030"/>
<rect x="573.7" y="148.61" width="1.4" height="1.4" fill="#ec3030"/>
<rect x="530.86" y="173.12" width="1.4" height="1.4" fill="#ec3030"/>
<rect x="584.26" y="142.76" width="1.4" height="1.4" fill="#ec3030"/>
<rect x="574.31" y="152.19" width="1.4" height="1.4" fill="#ec3030"/>
<rect x="536.87" y="165.92" width="1.4" height="1.4" fill="#ec3030"/>
<rect x="559.86" y="159.5" width="1.4" height="1.4" fill="#ec3030"/>
<rect x="578.77" y="150.41" width="1.4" height="1.4" fill="#ec3030"/>
<line x1="529" y1="170.8" x2="590.4" y2="138.9" stroke="#d4a017" stroke-width="1.5" stroke-dasharray="3.5 2.5"/>
<line x1="529" y1="177.7" x2="686.4" y2="172" stroke="#2a7ae0" stroke-width="1.4" stroke-dasharray="5 2.5"/>
<path d="M529,180.2 C529.13,179.73 528.17,178.05 529.8,177.4 C531.43,176.75 535.92,176.65 538.8,176.3 C541.68,175.95 544.8,175.35 547.1,175.3 C549.4,175.25 550.77,175.77 552.6,176 C554.43,176.23 556.38,176.23 558.1,176.7 C559.82,177.17 561.28,178.8 562.9,178.8 C564.52,178.8 565.83,177.43 567.8,176.7 C569.77,175.97 572.4,174.23 574.7,174.4 C577,174.57 579.77,177.43 581.6,177.7 C583.43,177.97 583.63,176.47 585.7,176 C587.77,175.53 591.25,175.35 594,174.9 C596.75,174.45 599.68,173.62 602.2,173.3 C604.72,172.98 606.8,172.82 609.1,173 C611.4,173.18 613.92,173.93 616,174.4 C618.08,174.87 619.23,175.62 621.6,175.8 C623.97,175.98 627.5,175.67 630.2,175.5 C632.9,175.33 635.02,175.55 637.8,174.8 C640.58,174.05 643.87,171.63 646.9,171 C649.93,170.37 653.72,170.88 656,171 C658.28,171.12 658.82,171.07 660.6,171.7 C662.38,172.33 664.17,174.92 666.7,174.8 C669.23,174.68 673.27,171.82 675.8,171 C678.33,170.18 679.62,169.4 681.9,169.9 C684.18,170.4 688.23,173.32 689.5,174" fill="none" stroke="#333" stroke-width="1.6" stroke-linejoin="round" stroke-linecap="round" />
</svg>
</body></html>
